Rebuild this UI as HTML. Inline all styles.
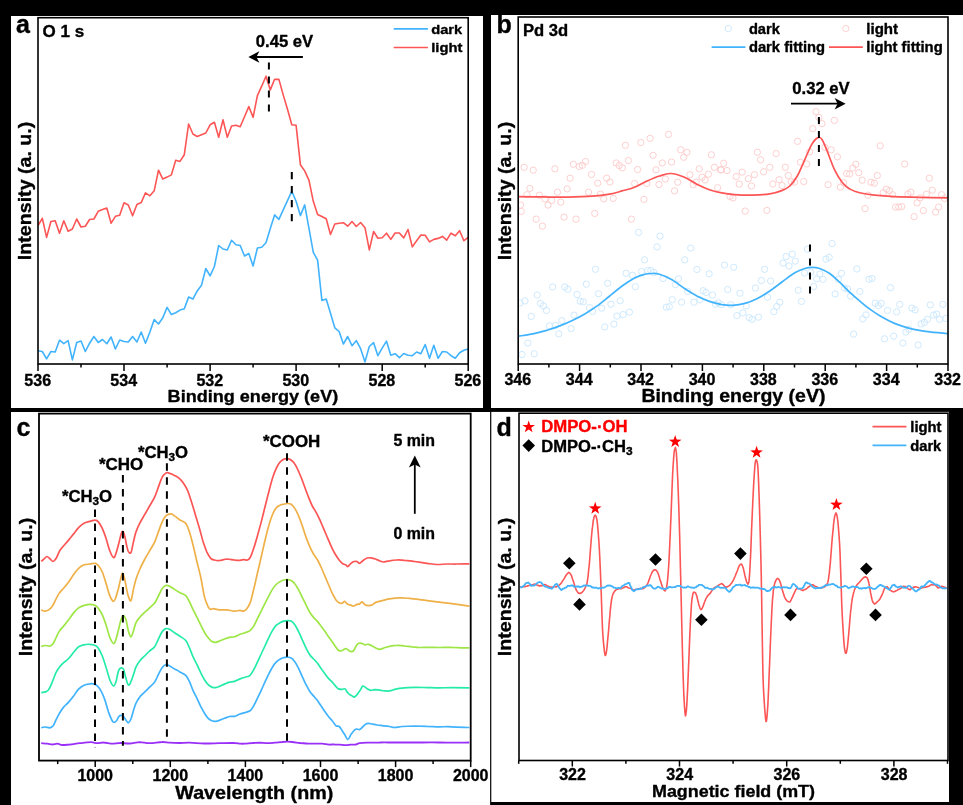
<!DOCTYPE html>
<html><head><meta charset="utf-8"><title>Figure</title>
<style>html,body{margin:0;padding:0;background:#000;overflow:hidden}svg{display:block;will-change:transform}text{font-family:"Liberation Sans",sans-serif;font-weight:bold}</style>
</head><body>
<svg width="963" height="805" viewBox="0 0 963 805">
<defs>
<clipPath id="ca"><rect x="38.0" y="17.7" width="430.2" height="346.3"/></clipPath>
<clipPath id="cb"><rect x="518.2" y="17.0" width="429.79999999999995" height="347.0"/></clipPath>
<clipPath id="cc"><rect x="39.0" y="413.6" width="431.7" height="347.0"/></clipPath>
<clipPath id="cd"><rect x="519.0" y="413.2" width="429.0" height="347.3"/></clipPath>
</defs>
<rect x="0" y="0" width="963" height="805" fill="#000"/>
<rect x="11" y="16" width="472" height="392" fill="#fff"/>
<rect x="491" y="15" width="472" height="393" fill="#fff"/>
<rect x="11" y="412" width="479.1" height="393" fill="#fff"/>
<rect x="491.3" y="411.9" width="457.7" height="390.1" fill="#fff"/>
<g clip-path="url(#ca)">
<polyline fill="none" stroke="#41b3fd" stroke-width="1.6" stroke-linejoin="round" stroke-linecap="butt"  points="38,350.7 42.3,351.5 46.6,358.9 50.9,351.5 55.2,352 59.5,340.2 63.8,343.7 68.1,340.7 72.4,359.9 76.7,342.5 81,341 85.3,351.5 89.6,343.2 93.9,336.5 98.2,342.5 102.5,339.5 106.8,343.7 111.1,337 115.4,349 119.7,340 124,341.5 128.3,342 132.6,336.5 136.9,342 141.2,332 145.5,343.2 149.9,332 154.2,319.6 158.5,324 162.8,317.8 167.1,307.4 171.4,314.6 175.7,312.8 180,310.1 184.3,308.8 188.6,297.1 192.9,299.1 197.2,290.9 201.5,285.2 205.8,268.5 210.1,275.9 214.4,266.5 218.7,245.5 223,249 227.3,250 231.6,240.3 235.9,244.8 240.2,245.5 244.5,256 248.8,253.5 253.1,266 257.4,248 261.7,247.3 266,242.8 270.3,228.6 274.6,214.9 278.9,219.4 283.2,209.9 287.5,200.7 291.8,191.2 296.1,201.2 300.4,215.6 304.7,204.9 309,228.6 313.3,252.3 317.6,260.2 321.9,300.4 326.2,299.1 330.5,313.3 334.8,327.8 339.1,331.5 343.4,344 347.7,336.5 352,345.7 356.3,340.7 360.6,348.7 365,361.9 369.3,346.5 373.6,342.7 377.9,355.7 382.2,348.2 386.5,341.2 390.8,355.2 395.1,353.7 399.4,357.7 403.7,353.5 408,355.2 412.3,355.7 416.6,352 420.9,353.7 425.2,344.5 429.5,358.2 433.8,345.2 438.1,358.2 442.4,351.5 446.7,352 451,355.7 455.3,358.2 459.6,352.7 463.9,350.2 468.2,349"/>
<polyline fill="none" stroke="#fc5555" stroke-width="1.6" stroke-linejoin="round" stroke-linecap="butt"  points="38,225.7 42.3,218.3 46.6,237.4 50.9,221.5 55.2,220.7 59.5,233.2 63.8,220.7 68.1,231.2 72.4,229 76.7,219 81,227 85.3,226.2 89.6,219.5 93.9,219 98.2,211.3 102.5,209.5 106.8,208 111.1,223.2 115.4,216.3 119.7,215.3 124,202.8 128.3,205 132.6,215.8 136.9,204.5 141.2,202.6 145.5,192.8 149.9,195.8 154.2,190.8 158.5,170.2 162.8,179.1 167.1,177.1 171.4,174.9 175.7,160.2 180,161.4 184.3,154.7 188.6,124 192.9,134 197.2,136.5 201.5,134.8 205.8,133 210.1,124.8 214.4,122.3 218.7,137.3 223,119.8 227.3,137.3 231.6,126 235.9,125.3 240.2,126.8 244.5,116.8 248.8,106.6 253.1,117.3 257.4,95.6 261.7,86.2 266,76.2 270.3,89.9 274.6,79.2 278.9,79.4 283.2,94.9 287.5,109.3 291.8,124.8 296.1,125.3 300.4,164.7 304.7,170.9 309,180.4 313.3,201.3 317.6,214.5 321.9,216.5 326.2,218.8 330.5,234.5 334.8,224 339.1,223.2 343.4,222.7 347.7,226.2 352,221.5 356.3,226.5 360.6,222.5 365,227.7 369.3,249.9 373.6,231.5 377.9,238.2 382.2,237.7 386.5,233.2 390.8,239.4 395.1,233 399.4,233 403.7,237.9 408,229.5 412.3,246.9 416.6,240.7 420.9,235 425.2,235.2 429.5,241.9 433.8,239.4 438.1,238.4 442.4,236.4 446.7,240.2 451,233.2 455.3,235.7 459.6,230.7 463.9,240.7 468.2,237.4"/>
</g>
<rect x="38" y="17.7" width="430.2" height="346.3" fill="none" stroke="#000" stroke-width="1.6"/>
<line x1="38" y1="364" x2="38" y2="371" stroke="#000" stroke-width="1.5" />
<line x1="124" y1="364" x2="124" y2="371" stroke="#000" stroke-width="1.5" />
<line x1="210.1" y1="364" x2="210.1" y2="371" stroke="#000" stroke-width="1.5" />
<line x1="296.1" y1="364" x2="296.1" y2="371" stroke="#000" stroke-width="1.5" />
<line x1="382.2" y1="364" x2="382.2" y2="371" stroke="#000" stroke-width="1.5" />
<line x1="468.2" y1="364" x2="468.2" y2="371" stroke="#000" stroke-width="1.5" />
<line x1="81" y1="364" x2="81" y2="367.5" stroke="#000" stroke-width="1.5" />
<line x1="167.1" y1="364" x2="167.1" y2="367.5" stroke="#000" stroke-width="1.5" />
<line x1="253.1" y1="364" x2="253.1" y2="367.5" stroke="#000" stroke-width="1.5" />
<line x1="339.1" y1="364" x2="339.1" y2="367.5" stroke="#000" stroke-width="1.5" />
<line x1="425.2" y1="364" x2="425.2" y2="367.5" stroke="#000" stroke-width="1.5" />
<text x="37.7" y="386.3" font-size="16" text-anchor="middle" fill="#000" stroke="#000" font-family="Liberation Sans, sans-serif" font-weight="bold" stroke-width="0.35" stroke-linejoin="round" >536</text>
<text x="123.7" y="386.3" font-size="16" text-anchor="middle" fill="#000" stroke="#000" font-family="Liberation Sans, sans-serif" font-weight="bold" stroke-width="0.35" stroke-linejoin="round" >534</text>
<text x="209.8" y="386.3" font-size="16" text-anchor="middle" fill="#000" stroke="#000" font-family="Liberation Sans, sans-serif" font-weight="bold" stroke-width="0.35" stroke-linejoin="round" >532</text>
<text x="295.8" y="386.3" font-size="16" text-anchor="middle" fill="#000" stroke="#000" font-family="Liberation Sans, sans-serif" font-weight="bold" stroke-width="0.35" stroke-linejoin="round" >530</text>
<text x="381.9" y="386.3" font-size="16" text-anchor="middle" fill="#000" stroke="#000" font-family="Liberation Sans, sans-serif" font-weight="bold" stroke-width="0.35" stroke-linejoin="round" >528</text>
<text x="467.9" y="386.3" font-size="16" text-anchor="middle" fill="#000" stroke="#000" font-family="Liberation Sans, sans-serif" font-weight="bold" stroke-width="0.35" stroke-linejoin="round" >526</text>
<text x="167.6" y="402.4" font-size="17.2" text-anchor="start" fill="#000" stroke="#000" font-family="Liberation Sans, sans-serif" font-weight="bold" stroke-width="0.35" stroke-linejoin="round" textLength="170.6" lengthAdjust="spacingAndGlyphs" >Binding energy (eV)</text>
<text transform="translate(30.7,190.9) rotate(-90)" font-size="18.6" text-anchor="middle" fill="#000" stroke="#000" font-family="Liberation Sans, sans-serif" font-weight="bold" stroke-width="0.35" stroke-linejoin="round" textLength="138.5" lengthAdjust="spacingAndGlyphs">Intensity (a. u.)</text>
<text x="16" y="32.7" font-size="25" text-anchor="start" fill="#000" stroke="#000" font-family="Liberation Sans, sans-serif" font-weight="bold" stroke-width="0.35" stroke-linejoin="round" >a</text>
<text x="42.6" y="36.9" font-size="16.4" text-anchor="start" fill="#000" stroke="#000" font-family="Liberation Sans, sans-serif" font-weight="bold" stroke-width="0.35" stroke-linejoin="round" textLength="41.6" lengthAdjust="spacingAndGlyphs" >O 1 s</text>
<line x1="393.7" y1="28.9" x2="427.9" y2="28.9" stroke="#41b3fd" stroke-width="1.7" />
<text x="431.2" y="33.7" font-size="13.6" text-anchor="start" fill="#000" stroke="#000" font-family="Liberation Sans, sans-serif" font-weight="bold" stroke-width="0.35" stroke-linejoin="round" textLength="31" lengthAdjust="spacingAndGlyphs" >dark</text>
<line x1="393.7" y1="47.5" x2="427.9" y2="47.5" stroke="#fc5555" stroke-width="1.7" />
<text x="431.2" y="52.1" font-size="13.6" text-anchor="start" fill="#000" stroke="#000" font-family="Liberation Sans, sans-serif" font-weight="bold" stroke-width="0.35" stroke-linejoin="round" textLength="31.2" lengthAdjust="spacingAndGlyphs" >light</text>
<text x="255.8" y="46.6" font-size="16" text-anchor="start" fill="#000" stroke="#000" font-family="Liberation Sans, sans-serif" font-weight="bold" stroke-width="0.35" stroke-linejoin="round" textLength="57.4" lengthAdjust="spacingAndGlyphs" >0.45 eV</text>
<line x1="302.9" y1="57" x2="255.9" y2="57" stroke="#000" stroke-width="1.8" />
<path fill="#000" d="M248.4,57 L259.4,51.2 L256.4,57 L259.4,62.8 Z"/>
<line x1="268.9" y1="62.4" x2="268.9" y2="111.8" stroke="#000" stroke-width="2" stroke-dasharray="7.2 6.8"/>
<line x1="291.8" y1="172" x2="291.8" y2="222.5" stroke="#000" stroke-width="2" stroke-dasharray="7.2 6.8"/>
<g clip-path="url(#cb)">
<circle cx="520" cy="302.9" r="3.15" fill="none" stroke="#c8e6fd" stroke-width="0.9"/>
<circle cx="525" cy="300.9" r="3.15" fill="none" stroke="#c8e6fd" stroke-width="0.9"/>
<circle cx="522" cy="354.5" r="3.15" fill="none" stroke="#c8e6fd" stroke-width="0.9"/>
<circle cx="527.9" cy="343.1" r="3.15" fill="none" stroke="#c8e6fd" stroke-width="0.9"/>
<circle cx="531.2" cy="316.4" r="3.15" fill="none" stroke="#c8e6fd" stroke-width="0.9"/>
<circle cx="534.2" cy="353.8" r="3.15" fill="none" stroke="#c8e6fd" stroke-width="0.9"/>
<circle cx="537.2" cy="295" r="3.15" fill="none" stroke="#c8e6fd" stroke-width="0.9"/>
<circle cx="540.4" cy="303.4" r="3.15" fill="none" stroke="#c8e6fd" stroke-width="0.9"/>
<circle cx="543.4" cy="305.9" r="3.15" fill="none" stroke="#c8e6fd" stroke-width="0.9"/>
<circle cx="546.4" cy="310.4" r="3.15" fill="none" stroke="#c8e6fd" stroke-width="0.9"/>
<circle cx="549.4" cy="325.9" r="3.15" fill="none" stroke="#c8e6fd" stroke-width="0.9"/>
<circle cx="552.6" cy="287" r="3.15" fill="none" stroke="#c8e6fd" stroke-width="0.9"/>
<circle cx="555.6" cy="325.4" r="3.15" fill="none" stroke="#c8e6fd" stroke-width="0.9"/>
<circle cx="558.8" cy="333.8" r="3.15" fill="none" stroke="#c8e6fd" stroke-width="0.9"/>
<circle cx="561.8" cy="320.6" r="3.15" fill="none" stroke="#c8e6fd" stroke-width="0.9"/>
<circle cx="564.8" cy="287" r="3.15" fill="none" stroke="#c8e6fd" stroke-width="0.9"/>
<circle cx="567.8" cy="289.2" r="3.15" fill="none" stroke="#c8e6fd" stroke-width="0.9"/>
<circle cx="571.1" cy="328.6" r="3.15" fill="none" stroke="#c8e6fd" stroke-width="0.9"/>
<circle cx="574" cy="315.1" r="3.15" fill="none" stroke="#c8e6fd" stroke-width="0.9"/>
<circle cx="577" cy="294.5" r="3.15" fill="none" stroke="#c8e6fd" stroke-width="0.9"/>
<circle cx="580.3" cy="301.2" r="3.15" fill="none" stroke="#c8e6fd" stroke-width="0.9"/>
<circle cx="583.3" cy="301.7" r="3.15" fill="none" stroke="#c8e6fd" stroke-width="0.9"/>
<circle cx="586.3" cy="284.2" r="3.15" fill="none" stroke="#c8e6fd" stroke-width="0.9"/>
<circle cx="589.5" cy="307.7" r="3.15" fill="none" stroke="#c8e6fd" stroke-width="0.9"/>
<circle cx="592.5" cy="311.4" r="3.15" fill="none" stroke="#c8e6fd" stroke-width="0.9"/>
<circle cx="595.5" cy="269.3" r="3.15" fill="none" stroke="#c8e6fd" stroke-width="0.9"/>
<circle cx="598.5" cy="293.7" r="3.15" fill="none" stroke="#c8e6fd" stroke-width="0.9"/>
<circle cx="601.7" cy="308.2" r="3.15" fill="none" stroke="#c8e6fd" stroke-width="0.9"/>
<circle cx="604.7" cy="326.9" r="3.15" fill="none" stroke="#c8e6fd" stroke-width="0.9"/>
<circle cx="607.7" cy="283.2" r="3.15" fill="none" stroke="#c8e6fd" stroke-width="0.9"/>
<circle cx="610.9" cy="304.2" r="3.15" fill="none" stroke="#c8e6fd" stroke-width="0.9"/>
<circle cx="613.9" cy="324.1" r="3.15" fill="none" stroke="#c8e6fd" stroke-width="0.9"/>
<circle cx="616.9" cy="316.1" r="3.15" fill="none" stroke="#c8e6fd" stroke-width="0.9"/>
<circle cx="620.2" cy="300.7" r="3.15" fill="none" stroke="#c8e6fd" stroke-width="0.9"/>
<circle cx="623.1" cy="314.6" r="3.15" fill="none" stroke="#c8e6fd" stroke-width="0.9"/>
<circle cx="626.1" cy="273.3" r="3.15" fill="none" stroke="#c8e6fd" stroke-width="0.9"/>
<circle cx="629.4" cy="312.1" r="3.15" fill="none" stroke="#c8e6fd" stroke-width="0.9"/>
<circle cx="632.4" cy="275.3" r="3.15" fill="none" stroke="#c8e6fd" stroke-width="0.9"/>
<circle cx="635.4" cy="286.7" r="3.15" fill="none" stroke="#c8e6fd" stroke-width="0.9"/>
<circle cx="638.6" cy="232.4" r="3.15" fill="none" stroke="#c8e6fd" stroke-width="0.9"/>
<circle cx="641.6" cy="271.5" r="3.15" fill="none" stroke="#c8e6fd" stroke-width="0.9"/>
<circle cx="644.6" cy="259.8" r="3.15" fill="none" stroke="#c8e6fd" stroke-width="0.9"/>
<circle cx="647.6" cy="270.5" r="3.15" fill="none" stroke="#c8e6fd" stroke-width="0.9"/>
<circle cx="650.8" cy="270.5" r="3.15" fill="none" stroke="#c8e6fd" stroke-width="0.9"/>
<circle cx="653.8" cy="272.5" r="3.15" fill="none" stroke="#c8e6fd" stroke-width="0.9"/>
<circle cx="657" cy="246.9" r="3.15" fill="none" stroke="#c8e6fd" stroke-width="0.9"/>
<circle cx="660" cy="236.1" r="3.15" fill="none" stroke="#c8e6fd" stroke-width="0.9"/>
<circle cx="663" cy="278.5" r="3.15" fill="none" stroke="#c8e6fd" stroke-width="0.9"/>
<circle cx="666.3" cy="307.2" r="3.15" fill="none" stroke="#c8e6fd" stroke-width="0.9"/>
<circle cx="669.3" cy="306.7" r="3.15" fill="none" stroke="#c8e6fd" stroke-width="0.9"/>
<circle cx="672.2" cy="299.7" r="3.15" fill="none" stroke="#c8e6fd" stroke-width="0.9"/>
<circle cx="675.5" cy="284.7" r="3.15" fill="none" stroke="#c8e6fd" stroke-width="0.9"/>
<circle cx="678.5" cy="278.8" r="3.15" fill="none" stroke="#c8e6fd" stroke-width="0.9"/>
<circle cx="681.5" cy="302.2" r="3.15" fill="none" stroke="#c8e6fd" stroke-width="0.9"/>
<circle cx="684.7" cy="259.8" r="3.15" fill="none" stroke="#c8e6fd" stroke-width="0.9"/>
<circle cx="687.7" cy="291.5" r="3.15" fill="none" stroke="#c8e6fd" stroke-width="0.9"/>
<circle cx="690.7" cy="248.1" r="3.15" fill="none" stroke="#c8e6fd" stroke-width="0.9"/>
<circle cx="693.9" cy="302.2" r="3.15" fill="none" stroke="#c8e6fd" stroke-width="0.9"/>
<circle cx="696.9" cy="269.5" r="3.15" fill="none" stroke="#c8e6fd" stroke-width="0.9"/>
<circle cx="699.9" cy="299.7" r="3.15" fill="none" stroke="#c8e6fd" stroke-width="0.9"/>
<circle cx="703.1" cy="290.7" r="3.15" fill="none" stroke="#c8e6fd" stroke-width="0.9"/>
<circle cx="706.1" cy="292.5" r="3.15" fill="none" stroke="#c8e6fd" stroke-width="0.9"/>
<circle cx="709.1" cy="273.8" r="3.15" fill="none" stroke="#c8e6fd" stroke-width="0.9"/>
<circle cx="712.4" cy="295" r="3.15" fill="none" stroke="#c8e6fd" stroke-width="0.9"/>
<circle cx="715.4" cy="304.2" r="3.15" fill="none" stroke="#c8e6fd" stroke-width="0.9"/>
<circle cx="718.3" cy="302.7" r="3.15" fill="none" stroke="#c8e6fd" stroke-width="0.9"/>
<circle cx="721.5" cy="304.7" r="3.15" fill="none" stroke="#c8e6fd" stroke-width="0.9"/>
<circle cx="724.5" cy="265" r="3.15" fill="none" stroke="#c8e6fd" stroke-width="0.9"/>
<circle cx="727.7" cy="289.5" r="3.15" fill="none" stroke="#c8e6fd" stroke-width="0.9"/>
<circle cx="730.7" cy="304.7" r="3.15" fill="none" stroke="#c8e6fd" stroke-width="0.9"/>
<circle cx="733.7" cy="267.3" r="3.15" fill="none" stroke="#c8e6fd" stroke-width="0.9"/>
<circle cx="736.9" cy="315.6" r="3.15" fill="none" stroke="#c8e6fd" stroke-width="0.9"/>
<circle cx="739.9" cy="293.2" r="3.15" fill="none" stroke="#c8e6fd" stroke-width="0.9"/>
<circle cx="742.9" cy="312.9" r="3.15" fill="none" stroke="#c8e6fd" stroke-width="0.9"/>
<circle cx="746.2" cy="305.9" r="3.15" fill="none" stroke="#c8e6fd" stroke-width="0.9"/>
<circle cx="749.2" cy="317.6" r="3.15" fill="none" stroke="#c8e6fd" stroke-width="0.9"/>
<circle cx="752.1" cy="319.4" r="3.15" fill="none" stroke="#c8e6fd" stroke-width="0.9"/>
<circle cx="755.4" cy="288" r="3.15" fill="none" stroke="#c8e6fd" stroke-width="0.9"/>
<circle cx="758.4" cy="317.1" r="3.15" fill="none" stroke="#c8e6fd" stroke-width="0.9"/>
<circle cx="761.4" cy="280.5" r="3.15" fill="none" stroke="#c8e6fd" stroke-width="0.9"/>
<circle cx="764.6" cy="269.3" r="3.15" fill="none" stroke="#c8e6fd" stroke-width="0.9"/>
<circle cx="767.6" cy="297.2" r="3.15" fill="none" stroke="#c8e6fd" stroke-width="0.9"/>
<circle cx="770.6" cy="281" r="3.15" fill="none" stroke="#c8e6fd" stroke-width="0.9"/>
<circle cx="773.8" cy="311.7" r="3.15" fill="none" stroke="#c8e6fd" stroke-width="0.9"/>
<circle cx="776.8" cy="306.4" r="3.15" fill="none" stroke="#c8e6fd" stroke-width="0.9"/>
<circle cx="779.8" cy="302.2" r="3.15" fill="none" stroke="#c8e6fd" stroke-width="0.9"/>
<circle cx="783.1" cy="263.1" r="3.15" fill="none" stroke="#c8e6fd" stroke-width="0.9"/>
<circle cx="786" cy="256.6" r="3.15" fill="none" stroke="#c8e6fd" stroke-width="0.9"/>
<circle cx="789" cy="266" r="3.15" fill="none" stroke="#c8e6fd" stroke-width="0.9"/>
<circle cx="792.3" cy="254.1" r="3.15" fill="none" stroke="#c8e6fd" stroke-width="0.9"/>
<circle cx="795.3" cy="261.1" r="3.15" fill="none" stroke="#c8e6fd" stroke-width="0.9"/>
<circle cx="798.3" cy="290.2" r="3.15" fill="none" stroke="#c8e6fd" stroke-width="0.9"/>
<circle cx="801.5" cy="301.4" r="3.15" fill="none" stroke="#c8e6fd" stroke-width="0.9"/>
<circle cx="804.5" cy="273" r="3.15" fill="none" stroke="#c8e6fd" stroke-width="0.9"/>
<circle cx="807.5" cy="249.1" r="3.15" fill="none" stroke="#c8e6fd" stroke-width="0.9"/>
<circle cx="810.7" cy="272.3" r="3.15" fill="none" stroke="#c8e6fd" stroke-width="0.9"/>
<circle cx="813.7" cy="286.5" r="3.15" fill="none" stroke="#c8e6fd" stroke-width="0.9"/>
<circle cx="816.7" cy="278.8" r="3.15" fill="none" stroke="#c8e6fd" stroke-width="0.9"/>
<circle cx="819.9" cy="274" r="3.15" fill="none" stroke="#c8e6fd" stroke-width="0.9"/>
<circle cx="822.9" cy="279.3" r="3.15" fill="none" stroke="#c8e6fd" stroke-width="0.9"/>
<circle cx="825.9" cy="259.1" r="3.15" fill="none" stroke="#c8e6fd" stroke-width="0.9"/>
<circle cx="829.2" cy="257.3" r="3.15" fill="none" stroke="#c8e6fd" stroke-width="0.9"/>
<circle cx="832.1" cy="243.6" r="3.15" fill="none" stroke="#c8e6fd" stroke-width="0.9"/>
<circle cx="835.1" cy="294" r="3.15" fill="none" stroke="#c8e6fd" stroke-width="0.9"/>
<circle cx="838.4" cy="279.3" r="3.15" fill="none" stroke="#c8e6fd" stroke-width="0.9"/>
<circle cx="841.4" cy="273.3" r="3.15" fill="none" stroke="#c8e6fd" stroke-width="0.9"/>
<circle cx="844.4" cy="288" r="3.15" fill="none" stroke="#c8e6fd" stroke-width="0.9"/>
<circle cx="847.6" cy="289" r="3.15" fill="none" stroke="#c8e6fd" stroke-width="0.9"/>
<circle cx="850.6" cy="296.2" r="3.15" fill="none" stroke="#c8e6fd" stroke-width="0.9"/>
<circle cx="853.6" cy="334.1" r="3.15" fill="none" stroke="#c8e6fd" stroke-width="0.9"/>
<circle cx="856.8" cy="269" r="3.15" fill="none" stroke="#c8e6fd" stroke-width="0.9"/>
<circle cx="859.8" cy="291.5" r="3.15" fill="none" stroke="#c8e6fd" stroke-width="0.9"/>
<circle cx="862.8" cy="318.9" r="3.15" fill="none" stroke="#c8e6fd" stroke-width="0.9"/>
<circle cx="866" cy="314.9" r="3.15" fill="none" stroke="#c8e6fd" stroke-width="0.9"/>
<circle cx="869" cy="279.3" r="3.15" fill="none" stroke="#c8e6fd" stroke-width="0.9"/>
<circle cx="872" cy="278.5" r="3.15" fill="none" stroke="#c8e6fd" stroke-width="0.9"/>
<circle cx="875.3" cy="303.2" r="3.15" fill="none" stroke="#c8e6fd" stroke-width="0.9"/>
<circle cx="878.3" cy="305.7" r="3.15" fill="none" stroke="#c8e6fd" stroke-width="0.9"/>
<circle cx="881.2" cy="303.4" r="3.15" fill="none" stroke="#c8e6fd" stroke-width="0.9"/>
<circle cx="884.5" cy="338.8" r="3.15" fill="none" stroke="#c8e6fd" stroke-width="0.9"/>
<circle cx="887.5" cy="310.4" r="3.15" fill="none" stroke="#c8e6fd" stroke-width="0.9"/>
<circle cx="890.5" cy="287.7" r="3.15" fill="none" stroke="#c8e6fd" stroke-width="0.9"/>
<circle cx="893.7" cy="336.1" r="3.15" fill="none" stroke="#c8e6fd" stroke-width="0.9"/>
<circle cx="896.7" cy="311.9" r="3.15" fill="none" stroke="#c8e6fd" stroke-width="0.9"/>
<circle cx="899.7" cy="304.4" r="3.15" fill="none" stroke="#c8e6fd" stroke-width="0.9"/>
<circle cx="902.9" cy="343.1" r="3.15" fill="none" stroke="#c8e6fd" stroke-width="0.9"/>
<circle cx="905.9" cy="332.1" r="3.15" fill="none" stroke="#c8e6fd" stroke-width="0.9"/>
<circle cx="908.9" cy="329.3" r="3.15" fill="none" stroke="#c8e6fd" stroke-width="0.9"/>
<circle cx="911.9" cy="308.2" r="3.15" fill="none" stroke="#c8e6fd" stroke-width="0.9"/>
<circle cx="915.1" cy="309.9" r="3.15" fill="none" stroke="#c8e6fd" stroke-width="0.9"/>
<circle cx="918.1" cy="345" r="3.15" fill="none" stroke="#c8e6fd" stroke-width="0.9"/>
<circle cx="921.1" cy="323.9" r="3.15" fill="none" stroke="#c8e6fd" stroke-width="0.9"/>
<circle cx="924.4" cy="322.4" r="3.15" fill="none" stroke="#c8e6fd" stroke-width="0.9"/>
<circle cx="927.4" cy="319.4" r="3.15" fill="none" stroke="#c8e6fd" stroke-width="0.9"/>
<circle cx="930.3" cy="304.9" r="3.15" fill="none" stroke="#c8e6fd" stroke-width="0.9"/>
<circle cx="933.6" cy="315.1" r="3.15" fill="none" stroke="#c8e6fd" stroke-width="0.9"/>
<circle cx="936.6" cy="314.1" r="3.15" fill="none" stroke="#c8e6fd" stroke-width="0.9"/>
<circle cx="939.6" cy="319.4" r="3.15" fill="none" stroke="#c8e6fd" stroke-width="0.9"/>
<circle cx="942.8" cy="304.4" r="3.15" fill="none" stroke="#c8e6fd" stroke-width="0.9"/>
<circle cx="945.8" cy="318.4" r="3.15" fill="none" stroke="#c8e6fd" stroke-width="0.9"/>
<circle cx="524.2" cy="167.3" r="3.15" fill="none" stroke="#fdcaca" stroke-width="0.9"/>
<circle cx="533.2" cy="170.2" r="3.15" fill="none" stroke="#fdcaca" stroke-width="0.9"/>
<circle cx="529.9" cy="188.4" r="3.15" fill="none" stroke="#fdcaca" stroke-width="0.9"/>
<circle cx="526.9" cy="194.7" r="3.15" fill="none" stroke="#fdcaca" stroke-width="0.9"/>
<circle cx="520.5" cy="205.1" r="3.15" fill="none" stroke="#fdcaca" stroke-width="0.9"/>
<circle cx="521.2" cy="211.4" r="3.15" fill="none" stroke="#fdcaca" stroke-width="0.9"/>
<circle cx="539.4" cy="195.2" r="3.15" fill="none" stroke="#fdcaca" stroke-width="0.9"/>
<circle cx="544.9" cy="198.9" r="3.15" fill="none" stroke="#fdcaca" stroke-width="0.9"/>
<circle cx="551.6" cy="200.4" r="3.15" fill="none" stroke="#fdcaca" stroke-width="0.9"/>
<circle cx="548.1" cy="205.1" r="3.15" fill="none" stroke="#fdcaca" stroke-width="0.9"/>
<circle cx="536.2" cy="219.1" r="3.15" fill="none" stroke="#fdcaca" stroke-width="0.9"/>
<circle cx="542.4" cy="226.1" r="3.15" fill="none" stroke="#fdcaca" stroke-width="0.9"/>
<circle cx="554.9" cy="168.8" r="3.15" fill="none" stroke="#fdcaca" stroke-width="0.9"/>
<circle cx="557.4" cy="192.2" r="3.15" fill="none" stroke="#fdcaca" stroke-width="0.9"/>
<circle cx="560.8" cy="202.1" r="3.15" fill="none" stroke="#fdcaca" stroke-width="0.9"/>
<circle cx="564.1" cy="217.1" r="3.15" fill="none" stroke="#fdcaca" stroke-width="0.9"/>
<circle cx="567.1" cy="188.9" r="3.15" fill="none" stroke="#fdcaca" stroke-width="0.9"/>
<circle cx="570.1" cy="178.2" r="3.15" fill="none" stroke="#fdcaca" stroke-width="0.9"/>
<circle cx="573.3" cy="164.3" r="3.15" fill="none" stroke="#fdcaca" stroke-width="0.9"/>
<circle cx="576" cy="219.1" r="3.15" fill="none" stroke="#fdcaca" stroke-width="0.9"/>
<circle cx="579.3" cy="166.5" r="3.15" fill="none" stroke="#fdcaca" stroke-width="0.9"/>
<circle cx="582.3" cy="165.3" r="3.15" fill="none" stroke="#fdcaca" stroke-width="0.9"/>
<circle cx="585.5" cy="161.5" r="3.15" fill="none" stroke="#fdcaca" stroke-width="0.9"/>
<circle cx="588.5" cy="192.2" r="3.15" fill="none" stroke="#fdcaca" stroke-width="0.9"/>
<circle cx="591.5" cy="174.5" r="3.15" fill="none" stroke="#fdcaca" stroke-width="0.9"/>
<circle cx="594.7" cy="213.4" r="3.15" fill="none" stroke="#fdcaca" stroke-width="0.9"/>
<circle cx="597.7" cy="183.2" r="3.15" fill="none" stroke="#fdcaca" stroke-width="0.9"/>
<circle cx="600.5" cy="194.2" r="3.15" fill="none" stroke="#fdcaca" stroke-width="0.9"/>
<circle cx="603.7" cy="198.9" r="3.15" fill="none" stroke="#fdcaca" stroke-width="0.9"/>
<circle cx="606.7" cy="178.2" r="3.15" fill="none" stroke="#fdcaca" stroke-width="0.9"/>
<circle cx="609.9" cy="182" r="3.15" fill="none" stroke="#fdcaca" stroke-width="0.9"/>
<circle cx="613.2" cy="198.4" r="3.15" fill="none" stroke="#fdcaca" stroke-width="0.9"/>
<circle cx="616.2" cy="163" r="3.15" fill="none" stroke="#fdcaca" stroke-width="0.9"/>
<circle cx="619.2" cy="165.5" r="3.15" fill="none" stroke="#fdcaca" stroke-width="0.9"/>
<circle cx="622.4" cy="167.8" r="3.15" fill="none" stroke="#fdcaca" stroke-width="0.9"/>
<circle cx="625.4" cy="145.3" r="3.15" fill="none" stroke="#fdcaca" stroke-width="0.9"/>
<circle cx="628.4" cy="160.5" r="3.15" fill="none" stroke="#fdcaca" stroke-width="0.9"/>
<circle cx="631.4" cy="219.1" r="3.15" fill="none" stroke="#fdcaca" stroke-width="0.9"/>
<circle cx="634.6" cy="183.5" r="3.15" fill="none" stroke="#fdcaca" stroke-width="0.9"/>
<circle cx="637.6" cy="169.5" r="3.15" fill="none" stroke="#fdcaca" stroke-width="0.9"/>
<circle cx="640.8" cy="142.6" r="3.15" fill="none" stroke="#fdcaca" stroke-width="0.9"/>
<circle cx="643.8" cy="199.4" r="3.15" fill="none" stroke="#fdcaca" stroke-width="0.9"/>
<circle cx="646.8" cy="183.5" r="3.15" fill="none" stroke="#fdcaca" stroke-width="0.9"/>
<circle cx="650.1" cy="138.3" r="3.15" fill="none" stroke="#fdcaca" stroke-width="0.9"/>
<circle cx="653.1" cy="155.3" r="3.15" fill="none" stroke="#fdcaca" stroke-width="0.9"/>
<circle cx="656" cy="169.8" r="3.15" fill="none" stroke="#fdcaca" stroke-width="0.9"/>
<circle cx="659" cy="184.5" r="3.15" fill="none" stroke="#fdcaca" stroke-width="0.9"/>
<circle cx="662.3" cy="163" r="3.15" fill="none" stroke="#fdcaca" stroke-width="0.9"/>
<circle cx="665.3" cy="179" r="3.15" fill="none" stroke="#fdcaca" stroke-width="0.9"/>
<circle cx="668.5" cy="134.4" r="3.15" fill="none" stroke="#fdcaca" stroke-width="0.9"/>
<circle cx="671.5" cy="162" r="3.15" fill="none" stroke="#fdcaca" stroke-width="0.9"/>
<circle cx="674.5" cy="190.9" r="3.15" fill="none" stroke="#fdcaca" stroke-width="0.9"/>
<circle cx="677.7" cy="182.2" r="3.15" fill="none" stroke="#fdcaca" stroke-width="0.9"/>
<circle cx="680.7" cy="149.8" r="3.15" fill="none" stroke="#fdcaca" stroke-width="0.9"/>
<circle cx="683.7" cy="157.3" r="3.15" fill="none" stroke="#fdcaca" stroke-width="0.9"/>
<circle cx="686.9" cy="152.3" r="3.15" fill="none" stroke="#fdcaca" stroke-width="0.9"/>
<circle cx="689.9" cy="174.7" r="3.15" fill="none" stroke="#fdcaca" stroke-width="0.9"/>
<circle cx="693.2" cy="184.7" r="3.15" fill="none" stroke="#fdcaca" stroke-width="0.9"/>
<circle cx="696.2" cy="182.2" r="3.15" fill="none" stroke="#fdcaca" stroke-width="0.9"/>
<circle cx="699.2" cy="168.8" r="3.15" fill="none" stroke="#fdcaca" stroke-width="0.9"/>
<circle cx="702.1" cy="177.2" r="3.15" fill="none" stroke="#fdcaca" stroke-width="0.9"/>
<circle cx="705.1" cy="180" r="3.15" fill="none" stroke="#fdcaca" stroke-width="0.9"/>
<circle cx="708.4" cy="174.2" r="3.15" fill="none" stroke="#fdcaca" stroke-width="0.9"/>
<circle cx="711.4" cy="154.8" r="3.15" fill="none" stroke="#fdcaca" stroke-width="0.9"/>
<circle cx="714.4" cy="167.3" r="3.15" fill="none" stroke="#fdcaca" stroke-width="0.9"/>
<circle cx="717.6" cy="187.7" r="3.15" fill="none" stroke="#fdcaca" stroke-width="0.9"/>
<circle cx="720.6" cy="169.8" r="3.15" fill="none" stroke="#fdcaca" stroke-width="0.9"/>
<circle cx="723.7" cy="163.3" r="3.15" fill="none" stroke="#fdcaca" stroke-width="0.9"/>
<circle cx="727" cy="170.5" r="3.15" fill="none" stroke="#fdcaca" stroke-width="0.9"/>
<circle cx="721.2" cy="169.8" r="3.15" fill="none" stroke="#fdcaca" stroke-width="0.9"/>
<circle cx="730" cy="196.4" r="3.15" fill="none" stroke="#fdcaca" stroke-width="0.9"/>
<circle cx="733" cy="197.9" r="3.15" fill="none" stroke="#fdcaca" stroke-width="0.9"/>
<circle cx="736.2" cy="176.5" r="3.15" fill="none" stroke="#fdcaca" stroke-width="0.9"/>
<circle cx="739.2" cy="184" r="3.15" fill="none" stroke="#fdcaca" stroke-width="0.9"/>
<circle cx="742.2" cy="172.2" r="3.15" fill="none" stroke="#fdcaca" stroke-width="0.9"/>
<circle cx="745.2" cy="211.1" r="3.15" fill="none" stroke="#fdcaca" stroke-width="0.9"/>
<circle cx="748.4" cy="178.7" r="3.15" fill="none" stroke="#fdcaca" stroke-width="0.9"/>
<circle cx="751.4" cy="186" r="3.15" fill="none" stroke="#fdcaca" stroke-width="0.9"/>
<circle cx="754.4" cy="174.7" r="3.15" fill="none" stroke="#fdcaca" stroke-width="0.9"/>
<circle cx="757.4" cy="152.3" r="3.15" fill="none" stroke="#fdcaca" stroke-width="0.9"/>
<circle cx="760.6" cy="159.8" r="3.15" fill="none" stroke="#fdcaca" stroke-width="0.9"/>
<circle cx="763.6" cy="171.7" r="3.15" fill="none" stroke="#fdcaca" stroke-width="0.9"/>
<circle cx="766.9" cy="210.4" r="3.15" fill="none" stroke="#fdcaca" stroke-width="0.9"/>
<circle cx="769.8" cy="167.3" r="3.15" fill="none" stroke="#fdcaca" stroke-width="0.9"/>
<circle cx="772.8" cy="184" r="3.15" fill="none" stroke="#fdcaca" stroke-width="0.9"/>
<circle cx="776.1" cy="153.6" r="3.15" fill="none" stroke="#fdcaca" stroke-width="0.9"/>
<circle cx="779.1" cy="179.7" r="3.15" fill="none" stroke="#fdcaca" stroke-width="0.9"/>
<circle cx="782.1" cy="185.5" r="3.15" fill="none" stroke="#fdcaca" stroke-width="0.9"/>
<circle cx="785.3" cy="167.3" r="3.15" fill="none" stroke="#fdcaca" stroke-width="0.9"/>
<circle cx="788.3" cy="175.5" r="3.15" fill="none" stroke="#fdcaca" stroke-width="0.9"/>
<circle cx="791.3" cy="181.7" r="3.15" fill="none" stroke="#fdcaca" stroke-width="0.9"/>
<circle cx="794.5" cy="182.2" r="3.15" fill="none" stroke="#fdcaca" stroke-width="0.9"/>
<circle cx="797.5" cy="141.3" r="3.15" fill="none" stroke="#fdcaca" stroke-width="0.9"/>
<circle cx="800.5" cy="162.3" r="3.15" fill="none" stroke="#fdcaca" stroke-width="0.9"/>
<circle cx="803.7" cy="181.5" r="3.15" fill="none" stroke="#fdcaca" stroke-width="0.9"/>
<circle cx="806.7" cy="164" r="3.15" fill="none" stroke="#fdcaca" stroke-width="0.9"/>
<circle cx="809.7" cy="151.8" r="3.15" fill="none" stroke="#fdcaca" stroke-width="0.9"/>
<circle cx="812.7" cy="128.6" r="3.15" fill="none" stroke="#fdcaca" stroke-width="0.9"/>
<circle cx="816" cy="111.7" r="3.15" fill="none" stroke="#fdcaca" stroke-width="0.9"/>
<circle cx="818.9" cy="117.4" r="3.15" fill="none" stroke="#fdcaca" stroke-width="0.9"/>
<circle cx="821.9" cy="123.6" r="3.15" fill="none" stroke="#fdcaca" stroke-width="0.9"/>
<circle cx="824.9" cy="147.3" r="3.15" fill="none" stroke="#fdcaca" stroke-width="0.9"/>
<circle cx="828.2" cy="184.7" r="3.15" fill="none" stroke="#fdcaca" stroke-width="0.9"/>
<circle cx="831.2" cy="149.8" r="3.15" fill="none" stroke="#fdcaca" stroke-width="0.9"/>
<circle cx="834.4" cy="120.4" r="3.15" fill="none" stroke="#fdcaca" stroke-width="0.9"/>
<circle cx="837.4" cy="156.8" r="3.15" fill="none" stroke="#fdcaca" stroke-width="0.9"/>
<circle cx="840.4" cy="187.2" r="3.15" fill="none" stroke="#fdcaca" stroke-width="0.9"/>
<circle cx="843.6" cy="182.7" r="3.15" fill="none" stroke="#fdcaca" stroke-width="0.9"/>
<circle cx="846.6" cy="173.5" r="3.15" fill="none" stroke="#fdcaca" stroke-width="0.9"/>
<circle cx="849.6" cy="174" r="3.15" fill="none" stroke="#fdcaca" stroke-width="0.9"/>
<circle cx="852.8" cy="168" r="3.15" fill="none" stroke="#fdcaca" stroke-width="0.9"/>
<circle cx="855.8" cy="164.3" r="3.15" fill="none" stroke="#fdcaca" stroke-width="0.9"/>
<circle cx="858.8" cy="172.7" r="3.15" fill="none" stroke="#fdcaca" stroke-width="0.9"/>
<circle cx="862.1" cy="180.2" r="3.15" fill="none" stroke="#fdcaca" stroke-width="0.9"/>
<circle cx="865" cy="208.6" r="3.15" fill="none" stroke="#fdcaca" stroke-width="0.9"/>
<circle cx="868" cy="195.2" r="3.15" fill="none" stroke="#fdcaca" stroke-width="0.9"/>
<circle cx="871" cy="182.2" r="3.15" fill="none" stroke="#fdcaca" stroke-width="0.9"/>
<circle cx="874.3" cy="183.2" r="3.15" fill="none" stroke="#fdcaca" stroke-width="0.9"/>
<circle cx="877.3" cy="175.5" r="3.15" fill="none" stroke="#fdcaca" stroke-width="0.9"/>
<circle cx="880.2" cy="145.8" r="3.15" fill="none" stroke="#fdcaca" stroke-width="0.9"/>
<circle cx="883.2" cy="192.7" r="3.15" fill="none" stroke="#fdcaca" stroke-width="0.9"/>
<circle cx="886.5" cy="189.2" r="3.15" fill="none" stroke="#fdcaca" stroke-width="0.9"/>
<circle cx="889.5" cy="190.7" r="3.15" fill="none" stroke="#fdcaca" stroke-width="0.9"/>
<circle cx="892.5" cy="194.7" r="3.15" fill="none" stroke="#fdcaca" stroke-width="0.9"/>
<circle cx="895.5" cy="207.1" r="3.15" fill="none" stroke="#fdcaca" stroke-width="0.9"/>
<circle cx="898.7" cy="207.1" r="3.15" fill="none" stroke="#fdcaca" stroke-width="0.9"/>
<circle cx="901.7" cy="206.6" r="3.15" fill="none" stroke="#fdcaca" stroke-width="0.9"/>
<circle cx="904.7" cy="164" r="3.15" fill="none" stroke="#fdcaca" stroke-width="0.9"/>
<circle cx="907.9" cy="193.9" r="3.15" fill="none" stroke="#fdcaca" stroke-width="0.9"/>
<circle cx="910.9" cy="192.2" r="3.15" fill="none" stroke="#fdcaca" stroke-width="0.9"/>
<circle cx="914.1" cy="216.6" r="3.15" fill="none" stroke="#fdcaca" stroke-width="0.9"/>
<circle cx="917.1" cy="202.9" r="3.15" fill="none" stroke="#fdcaca" stroke-width="0.9"/>
<circle cx="920.1" cy="197.9" r="3.15" fill="none" stroke="#fdcaca" stroke-width="0.9"/>
<circle cx="923.4" cy="210.6" r="3.15" fill="none" stroke="#fdcaca" stroke-width="0.9"/>
<circle cx="926.4" cy="194.2" r="3.15" fill="none" stroke="#fdcaca" stroke-width="0.9"/>
<circle cx="929.3" cy="178.2" r="3.15" fill="none" stroke="#fdcaca" stroke-width="0.9"/>
<circle cx="932.3" cy="190.2" r="3.15" fill="none" stroke="#fdcaca" stroke-width="0.9"/>
<circle cx="935.6" cy="212.1" r="3.15" fill="none" stroke="#fdcaca" stroke-width="0.9"/>
<circle cx="938.6" cy="207.1" r="3.15" fill="none" stroke="#fdcaca" stroke-width="0.9"/>
<circle cx="941.6" cy="194.7" r="3.15" fill="none" stroke="#fdcaca" stroke-width="0.9"/>
<circle cx="944.5" cy="198.4" r="3.15" fill="none" stroke="#fdcaca" stroke-width="0.9"/>
<path fill="none" stroke="#41b3fd" stroke-width="1.7" stroke-linejoin="round"  d="M518.2,336.3C521,335.8 530.1,334.4 534.9,333.3C539.8,332.3 543.2,331.3 547.4,330.1C551.5,328.8 555.7,327.5 559.8,325.9C564,324.2 568.2,322.4 572.3,320.4C576.5,318.4 580.6,316.3 584.8,313.9C588.9,311.5 593.1,308.9 597.2,305.9C601.4,302.9 605.5,299.3 609.7,296C613.8,292.6 618,289 622.1,286C626.3,283 630.9,280 634.6,278C638.3,276.1 641.7,275 644.6,274.3C647.5,273.5 649.6,273.5 652.1,273.5C654.5,273.5 656.2,273.2 659.5,274.3C662.9,275.3 667.8,277.4 672,279.8C676.1,282.1 680.3,285.8 684.5,288.5C688.6,291.2 692.8,293.8 696.9,296C701.1,298.1 705.2,300 709.4,301.4C713.5,302.9 718,304 721.8,304.7C725.7,305.3 728.6,305.6 732.5,305.4C736.3,305.2 740.8,304.6 744.9,303.4C749.1,302.3 753.2,300.5 757.4,298.4C761.5,296.4 765.7,293.7 769.8,291C774,288.2 778.2,284.8 782.3,281.7C786.5,278.7 791,275 794.8,272.8C798.5,270.6 801.8,269.4 804.7,268.5C807.6,267.6 809.7,267.3 812.2,267.3C814.7,267.3 816.8,267.5 819.7,268.5C822.6,269.6 826.3,271.2 829.7,273.5C833,275.8 836.3,279.1 839.6,282.2C842.9,285.4 846.3,289.1 849.6,292.2C852.9,295.3 856.2,298.2 859.6,300.9C862.9,303.7 865.8,306.2 869.5,308.9C873.3,311.6 877.8,314.7 882,317.1C886.1,319.5 890.3,321.6 894.5,323.4C898.6,325.1 902.8,326.4 906.9,327.6C911.1,328.8 915.2,329.6 919.4,330.3C923.5,331.1 927.1,331.5 931.8,332.1C936.5,332.6 944.9,333.3 947.5,333.6"/>
<path fill="none" stroke="#fc5555" stroke-width="1.7" stroke-linejoin="round"  d="M518.2,196.7C522.3,196.7 534.2,196.8 542.4,196.9C550.6,197 559,197.3 567.3,197.2C575.6,197 585.2,196.7 592.2,196.2C599.3,195.7 604.7,195 609.7,194.2C614.7,193.3 618,192.1 622.1,190.9C626.3,189.8 630.5,188.9 634.6,187.2C638.8,185.5 642.9,182.8 647.1,181C651.2,179.1 655.6,177.2 659.5,176C663.5,174.7 666.6,173.3 670.7,173.5C674.9,173.7 680.1,175.4 684.5,177.2C688.8,179 692.8,182.1 696.9,184.2C701.1,186.3 705.2,188.2 709.4,189.7C713.5,191.1 717.7,192.1 721.8,192.9C726,193.8 729.2,194.3 734.3,194.7C739.4,195 746.5,195.3 752.4,195.2C758.3,195 764.9,194.7 769.8,193.9C774.8,193.1 779,191.8 782.3,190.4C785.6,189.1 787.3,188.4 789.8,186C792.3,183.5 794.8,180.3 797.3,176C799.8,171.6 802.2,165.2 804.7,159.8C807.2,154.4 809.9,147.3 812.2,143.6C814.5,139.8 816.8,138 818.4,137.4C820.1,136.7 820.7,137.6 822.2,139.8C823.6,142.1 825.1,146.1 827.2,151.1C829.2,156 832.1,164.6 834.6,169.8C837.1,174.9 839.6,179 842.1,182.2C844.6,185.4 846.7,187.2 849.6,188.9C852.5,190.7 855.4,191.6 859.6,192.7C863.7,193.7 868.7,194.5 874.5,195.2C880.3,195.8 887,196.3 894.5,196.7C901.9,197 910.5,197.2 919.4,197.4C928.2,197.6 942.8,197.8 947.5,197.9"/>
</g>
<rect x="518.2" y="17" width="429.8" height="347" fill="none" stroke="#000" stroke-width="1.6"/>
<line x1="518.2" y1="364" x2="518.2" y2="371" stroke="#000" stroke-width="1.5" />
<line x1="579.6" y1="364" x2="579.6" y2="371" stroke="#000" stroke-width="1.5" />
<line x1="641" y1="364" x2="641" y2="371" stroke="#000" stroke-width="1.5" />
<line x1="702.4" y1="364" x2="702.4" y2="371" stroke="#000" stroke-width="1.5" />
<line x1="763.8" y1="364" x2="763.8" y2="371" stroke="#000" stroke-width="1.5" />
<line x1="825.2" y1="364" x2="825.2" y2="371" stroke="#000" stroke-width="1.5" />
<line x1="886.6" y1="364" x2="886.6" y2="371" stroke="#000" stroke-width="1.5" />
<line x1="948" y1="364" x2="948" y2="371" stroke="#000" stroke-width="1.5" />
<line x1="548.9" y1="364" x2="548.9" y2="367.5" stroke="#000" stroke-width="1.5" />
<line x1="610.3" y1="364" x2="610.3" y2="367.5" stroke="#000" stroke-width="1.5" />
<line x1="671.7" y1="364" x2="671.7" y2="367.5" stroke="#000" stroke-width="1.5" />
<line x1="733.1" y1="364" x2="733.1" y2="367.5" stroke="#000" stroke-width="1.5" />
<line x1="794.5" y1="364" x2="794.5" y2="367.5" stroke="#000" stroke-width="1.5" />
<line x1="855.9" y1="364" x2="855.9" y2="367.5" stroke="#000" stroke-width="1.5" />
<line x1="917.3" y1="364" x2="917.3" y2="367.5" stroke="#000" stroke-width="1.5" />
<text x="517.8" y="384.7" font-size="16" text-anchor="middle" fill="#000" stroke="#000" font-family="Liberation Sans, sans-serif" font-weight="bold" stroke-width="0.35" stroke-linejoin="round" >346</text>
<text x="579.2" y="384.7" font-size="16" text-anchor="middle" fill="#000" stroke="#000" font-family="Liberation Sans, sans-serif" font-weight="bold" stroke-width="0.35" stroke-linejoin="round" >344</text>
<text x="640.6" y="384.7" font-size="16" text-anchor="middle" fill="#000" stroke="#000" font-family="Liberation Sans, sans-serif" font-weight="bold" stroke-width="0.35" stroke-linejoin="round" >342</text>
<text x="702" y="384.7" font-size="16" text-anchor="middle" fill="#000" stroke="#000" font-family="Liberation Sans, sans-serif" font-weight="bold" stroke-width="0.35" stroke-linejoin="round" >340</text>
<text x="763.4" y="384.7" font-size="16" text-anchor="middle" fill="#000" stroke="#000" font-family="Liberation Sans, sans-serif" font-weight="bold" stroke-width="0.35" stroke-linejoin="round" >338</text>
<text x="824.8" y="384.7" font-size="16" text-anchor="middle" fill="#000" stroke="#000" font-family="Liberation Sans, sans-serif" font-weight="bold" stroke-width="0.35" stroke-linejoin="round" >336</text>
<text x="886.2" y="384.7" font-size="16" text-anchor="middle" fill="#000" stroke="#000" font-family="Liberation Sans, sans-serif" font-weight="bold" stroke-width="0.35" stroke-linejoin="round" >334</text>
<text x="947.6" y="384.7" font-size="16" text-anchor="middle" fill="#000" stroke="#000" font-family="Liberation Sans, sans-serif" font-weight="bold" stroke-width="0.35" stroke-linejoin="round" >332</text>
<text x="641.4" y="402.4" font-size="18.2" text-anchor="start" fill="#000" stroke="#000" font-family="Liberation Sans, sans-serif" font-weight="bold" stroke-width="0.35" stroke-linejoin="round" textLength="184" lengthAdjust="spacingAndGlyphs" >Binding energy (eV)</text>
<text transform="translate(510.7,190.9) rotate(-90)" font-size="18.6" text-anchor="middle" fill="#000" stroke="#000" font-family="Liberation Sans, sans-serif" font-weight="bold" stroke-width="0.35" stroke-linejoin="round" textLength="138.5" lengthAdjust="spacingAndGlyphs">Intensity (a. u.)</text>
<text x="496.6" y="32.8" font-size="25" text-anchor="start" fill="#000" stroke="#000" font-family="Liberation Sans, sans-serif" font-weight="bold" stroke-width="0.35" stroke-linejoin="round" >b</text>
<text x="522.9" y="35.5" font-size="15.8" text-anchor="start" fill="#000" stroke="#000" font-family="Liberation Sans, sans-serif" font-weight="bold" stroke-width="0.35" stroke-linejoin="round" textLength="45.2" lengthAdjust="spacingAndGlyphs" >Pd 3d</text>
<circle cx="728.3" cy="28.5" r="3.15" fill="none" stroke="#c8e6fd" stroke-width="0.9"/>
<text x="748.9" y="33.8" font-size="13.8" text-anchor="start" fill="#000" stroke="#000" font-family="Liberation Sans, sans-serif" font-weight="bold" stroke-width="0.35" stroke-linejoin="round" textLength="31" lengthAdjust="spacingAndGlyphs" >dark</text>
<circle cx="845.8" cy="28.5" r="3.15" fill="none" stroke="#fdcaca" stroke-width="0.9"/>
<text x="866.3" y="33.8" font-size="13.8" text-anchor="start" fill="#000" stroke="#000" font-family="Liberation Sans, sans-serif" font-weight="bold" stroke-width="0.35" stroke-linejoin="round" textLength="31.8" lengthAdjust="spacingAndGlyphs" >light</text>
<line x1="711.6" y1="47.1" x2="745.4" y2="47.1" stroke="#41b3fd" stroke-width="1.7" />
<text x="748.9" y="52.4" font-size="13.8" text-anchor="start" fill="#000" stroke="#000" font-family="Liberation Sans, sans-serif" font-weight="bold" stroke-width="0.35" stroke-linejoin="round" textLength="76.2" lengthAdjust="spacingAndGlyphs" >dark fitting</text>
<line x1="829" y1="47.1" x2="862.8" y2="47.1" stroke="#fc5555" stroke-width="1.7" />
<text x="866.3" y="52.4" font-size="13.8" text-anchor="start" fill="#000" stroke="#000" font-family="Liberation Sans, sans-serif" font-weight="bold" stroke-width="0.35" stroke-linejoin="round" textLength="76.4" lengthAdjust="spacingAndGlyphs" >light fitting</text>
<text x="792.3" y="94.1" font-size="16" text-anchor="start" fill="#000" stroke="#000" font-family="Liberation Sans, sans-serif" font-weight="bold" stroke-width="0.35" stroke-linejoin="round" textLength="57.4" lengthAdjust="spacingAndGlyphs" >0.32 eV</text>
<line x1="791" y1="103.7" x2="838.1" y2="103.7" stroke="#000" stroke-width="1.8" />
<path fill="#000" d="M845.6,103.7 L834.6,97.9 L837.6,103.7 L834.6,109.5 Z"/>
<line x1="818.9" y1="116.9" x2="818.9" y2="166.5" stroke="#000" stroke-width="2" stroke-dasharray="7.2 6.8"/>
<line x1="810" y1="244.4" x2="810" y2="294.2" stroke="#000" stroke-width="2" stroke-dasharray="7.2 6.8"/>
<g clip-path="url(#cc)">
<path fill="none" stroke="#9a30f7" stroke-width="1.8" stroke-linejoin="round"  d="M41.2,743.2C42.3,743.3 45.6,743.5 47.4,743.7C49.3,743.9 50.8,744.5 52.4,744.5C54.1,744.5 55.8,743.6 57.4,743.7C59.1,743.8 60.3,744.8 62.4,745C64.5,745.1 67,744.7 69.9,744.5C72.8,744.2 76.3,743.6 79.8,743.2C83.4,742.8 88.2,742.2 91.1,742.2C94,742.2 95.2,743.2 97.3,743.2C99.4,743.3 101,742.4 103.5,742.5C106,742.5 109.5,743.6 112.2,743.7C114.9,743.8 116.8,743 119.7,743C122.6,742.9 126.4,743.6 129.7,743.5C133,743.3 136.3,742.3 139.7,742.2C143,742.2 145.9,743.3 149.6,743.2C153.4,743.2 158.8,742 162.1,742C165.4,741.9 166.7,742.5 169.6,742.7C172.5,742.9 176.2,743 179.5,743C182.9,743 185.3,742.6 189.5,742.7C193.7,742.8 199.5,743.4 204.5,743.5C209.4,743.5 214.4,743.3 219.4,743.2C224.4,743.1 230.9,742.9 234.4,743C237.8,743 238.2,743.6 240,743.7C241.8,743.8 242.9,743.8 245,743.7C247.1,743.6 250,743.1 252.5,743C255,742.8 257.4,742.7 259.9,742.7C262.4,742.8 264.9,743.2 267.4,743.2C269.9,743.2 272.4,742.9 274.9,742.7C277.4,742.5 280.3,742.1 282.4,742C284.4,741.8 285.7,741.7 287.4,741.7C289,741.7 290.3,741.8 292.3,742C294.4,742.2 297.3,742.7 299.8,743C302.3,743.2 304.8,743.3 307.3,743.5C309.8,743.6 312.3,743.7 314.8,743.7C317.3,743.7 320,743.6 322.2,743.7C324.5,743.8 326.4,744.3 328.5,744.5C330.6,744.6 332.8,744.4 334.7,744.5C336.6,744.5 337.8,744.6 339.7,744.7C341.6,744.8 344,745.2 345.9,745.2C347.8,745.2 349.2,744.8 350.9,744.7C352.6,744.6 354.4,744.7 355.9,744.5C357.3,744.2 357.8,743.5 359.6,743.2C361.5,742.9 363.8,742.8 367.1,742.7C370.4,742.6 375,742.5 379.6,742.5C384.1,742.4 388.7,742.5 394.5,742.5C400.3,742.5 407,742.5 414.5,742.5C421.9,742.5 432.7,742.4 439.4,742.5C446,742.5 449.3,742.7 454.3,742.7C459.3,742.7 466.8,742.5 469.3,742.5"/>
<path fill="none" stroke="#41b3fd" stroke-width="1.7" stroke-linejoin="round"  d="M41.2,727.8C41.8,727.6 43.5,727 45,727C46.4,727 48.6,728 49.9,727.8C51.3,727.5 52.1,727.1 53.2,725.8C54.2,724.4 55.1,721.6 56.2,719.5C57.2,717.5 58.2,715.4 59.4,713.3C60.7,711.2 62.1,708.9 63.6,707.1C65.2,705.2 67,704 68.6,702.1C70.3,700.2 72,698 73.6,695.9C75.3,693.7 76.9,690.9 78.6,689.1C80.3,687.4 81.7,686.3 83.6,685.4C85.5,684.5 88.2,684.1 89.8,683.9C91.5,683.6 92.3,683.6 93.6,683.9C94.8,684.2 96,684.7 97.3,685.9C98.5,687.1 99.8,688.6 101,690.9C102.3,693.2 103.5,696.1 104.8,699.6C106,703.1 107.3,708.5 108.5,712.1C109.8,715.6 111.3,719 112.2,720.8C113.2,722.5 113.3,722.5 114,722.5C114.7,722.5 115.6,721.8 116.5,720.8C117.3,719.7 118.1,717.2 119,716.3C119.8,715.4 120.6,715.2 121.5,715.3C122.3,715.4 123.1,716.1 124,717C124.8,718 125.7,719.8 126.4,720.8C127.2,721.7 127.7,723.1 128.4,722.8C129.2,722.5 130.1,721 130.9,719C131.8,717 132.6,713.4 133.4,710.8C134.3,708.2 134.9,705.6 135.9,703.3C137,701 138.2,699 139.7,697.1C141.1,695.2 143,693.8 144.6,692.1C146.3,690.5 148,688.8 149.6,687.1C151.3,685.5 153.2,684.2 154.6,682.1C156.1,680.1 157.1,677.1 158.3,674.7C159.6,672.3 160.8,669.4 162.1,667.7C163.3,666 164.6,665 165.8,664.7C167.1,664.4 168.1,665.2 169.6,666C171,666.7 172.9,668 174.5,668.9C176.2,669.9 177.7,670.6 179.5,671.7C181.4,672.8 184.1,673.8 185.8,675.4C187.4,677.1 188.3,679.1 189.5,681.7C190.7,684.2 192,688.1 193.2,690.9C194.5,693.7 195.7,695.8 197,698.3C198.2,700.9 199.5,703.8 200.7,706.3C202,708.8 203.2,711.3 204.5,713.3C205.7,715.3 206.9,717 208.2,718.3C209.4,719.5 210.7,720.3 211.9,720.8C213.2,721.3 214.4,721.4 215.7,721.3C216.9,721.2 218,720.8 219.4,720.3C220.9,719.8 222.7,718.9 224.4,718.3C226.1,717.7 227.7,716.9 229.4,716.5C231,716.2 232.6,716.7 234.4,716.3C236.1,715.9 238.2,714.7 240,714C241.8,713.4 243.3,713.1 245,712.6C246.6,712 248.5,711.9 250,710.8C251.4,709.7 252.5,707.9 253.7,705.8C255,703.7 256.2,700.9 257.4,698.3C258.7,695.8 259.9,693.1 261.2,690.4C262.4,687.7 263.7,684.8 264.9,682.1C266.2,679.4 267.4,676.7 268.7,674.2C269.9,671.7 271.2,669.2 272.4,667.2C273.6,665.2 274.9,663.5 276.1,662.2C277.4,660.9 278.6,660 279.9,659.2C281.1,658.5 282.4,658.1 283.6,657.7C284.9,657.4 286.1,657.2 287.4,657.2C288.6,657.3 289.8,657.2 291.1,658C292.3,658.7 293.6,660 294.8,661.7C296.1,663.5 297.3,666 298.6,668.4C299.8,670.9 301.1,674 302.3,676.7C303.6,679.4 304.8,682.2 306,684.6C307.3,687.1 308.5,689.5 309.8,691.4C311,693.2 312.3,694.4 313.5,695.9C314.8,697.4 316,698.7 317.3,700.3C318.5,702 319.8,704 321,705.8C322.2,707.7 323.5,709.5 324.7,711.3C326,713.1 327.2,715 328.5,716.5C329.7,718.1 331,719.2 332.2,720.8C333.5,722.3 334.8,724.8 336,725.8C337.1,726.7 338.2,725.7 339.2,726.5C340.2,727.3 341.3,729.4 342.2,730.7C343.1,732.1 343.7,733 344.7,734.5C345.6,735.9 346.9,739.5 347.9,739.5C349,739.5 349.9,735.9 350.9,734.5C351.9,733 353,731.7 353.9,730.7C354.8,729.8 355.4,729.2 356.4,729C357.3,728.8 358.6,729.8 359.6,729.5C360.7,729.2 361.6,727.9 362.6,727C363.7,726.1 364.9,724.6 365.9,724C366.8,723.4 367.3,723.3 368.3,723.3C369.4,723.3 370.6,723.7 372.1,724C373.5,724.3 375.2,724.7 377.1,725C378.9,725.3 381.2,725.5 383.3,725.8C385.4,726 387.7,726.2 389.5,726.5C391.4,726.8 392.4,727.5 394.5,727.5C396.6,727.5 398.7,726.8 402,726.5C405.3,726.3 410.3,726.1 414.5,726C418.6,726 422.8,726.1 426.9,726.3C431.1,726.4 435.2,726.7 439.4,726.8C443.5,726.8 446.9,726.6 451.8,726.8C456.8,726.9 466.4,727.4 469.3,727.5"/>
<path fill="none" stroke="#25ebaa" stroke-width="1.7" stroke-linejoin="round"  d="M41.2,692.6C42,692.5 45,692.1 46.2,691.6C47.4,691.1 47.9,690.8 48.7,689.6C49.5,688.5 50.4,686.5 51.2,684.6C52,682.8 52.8,680.5 53.7,678.4C54.5,676.3 55.2,674 56.2,672.2C57.1,670.3 58.2,668.8 59.4,667.2C60.7,665.6 62.1,664.2 63.6,662.7C65.2,661.3 67,660.2 68.6,658.5C70.3,656.7 72,654.2 73.6,652.2C75.3,650.3 76.9,648 78.6,646.8C80.3,645.5 81.7,645.2 83.6,644.8C85.5,644.4 87.9,644.1 89.8,644.3C91.8,644.4 93.8,644.8 95.3,645.5C96.7,646.2 97.4,646.8 98.5,648.5C99.7,650.2 101,652.9 102.3,656C103.5,659.1 104.8,663.3 106,667.2C107.3,671.1 108.5,676.5 109.8,679.7C111,682.8 112.5,685.6 113.5,685.9C114.5,686.2 115.2,684.1 116,681.7C116.8,679.2 117.6,673.2 118.5,670.9C119.3,668.7 120.1,668.2 121,667.9C121.8,667.7 122.6,667.4 123.5,669.2C124.3,670.9 125.1,675.8 126,678.4C126.8,681.1 127.6,684.6 128.4,685.1C129.3,685.7 130.1,683.4 130.9,681.7C131.8,679.9 132.6,677.1 133.4,674.7C134.3,672.3 134.9,669.5 135.9,667.2C137,664.9 138.2,662.8 139.7,661C141.1,659.1 143,657.6 144.6,656C146.3,654.3 148,652.5 149.6,651C151.3,649.5 153.2,648.7 154.6,646.8C156.1,644.8 157.1,641.8 158.3,639.3C159.6,636.8 160.8,633.6 162.1,631.8C163.3,630 164.6,629 165.8,628.6C167.1,628.2 168.1,628.6 169.6,629.3C171,630 172.9,631.7 174.5,632.8C176.2,633.9 177.7,634.8 179.5,636C181.4,637.3 184.1,638.5 185.8,640.5C187.4,642.5 188.3,645.2 189.5,648C190.7,650.8 192,654.4 193.2,657.2C194.5,660 195.7,662.1 197,664.7C198.2,667.3 199.5,670.2 200.7,672.7C202,675.2 203.2,677.7 204.5,679.7C205.7,681.7 206.9,683.4 208.2,684.6C209.4,685.9 210.7,686.6 211.9,687.1C213.2,687.6 214.4,687.8 215.7,687.6C216.9,687.5 218,687 219.4,686.4C220.9,685.8 222.7,684.8 224.4,684.1C226.1,683.4 227.7,682.6 229.4,682.1C231,681.7 232.6,681.9 234.4,681.4C236.1,680.9 238.2,679.6 240,678.9C241.8,678.2 243.3,677.7 245,677.2C246.6,676.6 248.5,676.7 250,675.4C251.4,674.2 252.5,671.9 253.7,669.7C255,667.5 256.2,664.8 257.4,662.2C258.7,659.6 259.9,656.7 261.2,654C262.4,651.3 263.7,648.7 264.9,646C266.2,643.3 267.4,640.4 268.7,637.8C269.9,635.2 271.2,632.6 272.4,630.6C273.6,628.5 274.9,626.6 276.1,625.3C277.4,624 278.6,623.5 279.9,622.8C281.1,622.1 282.4,621.5 283.6,621.1C284.9,620.7 286.1,620.6 287.4,620.6C288.6,620.6 289.8,620.4 291.1,621.1C292.3,621.8 293.6,623.1 294.8,624.8C296.1,626.6 297.3,629.1 298.6,631.6C299.8,634 301.1,637 302.3,639.8C303.6,642.5 304.8,645.5 306,648C307.3,650.5 308.5,652.9 309.8,654.7C311,656.6 312.3,657.6 313.5,659C314.8,660.3 316,661.4 317.3,663C318.5,664.5 319.8,666.7 321,668.4C322.2,670.2 323.5,671.8 324.7,673.4C326,675.1 327.2,677 328.5,678.4C329.7,679.9 331,680.8 332.2,682.1C333.5,683.5 334.9,685.5 336,686.6C337,687.8 337.4,688.4 338.4,688.9C339.5,689.3 341.1,689.4 342.2,689.4C343.3,689.4 344.3,688.4 345.2,688.9C346,689.3 346.4,691.2 347.2,692.1C347.9,693.1 348.8,694 349.7,694.6C350.5,695.2 351.4,695.4 352.1,695.9C352.9,696.3 353.4,697.2 354.1,697.1C354.8,697 355.6,696.2 356.4,695.4C357.2,694.5 358.1,693.2 358.9,692.1C359.6,691.1 360.2,690.1 360.9,689.1C361.5,688.1 361.9,686.5 362.6,686.1C363.3,685.8 364.3,686.6 365.1,687.1C365.9,687.6 366.6,688.6 367.6,689.1C368.6,689.7 369.7,690.3 370.8,690.4C372,690.5 373.1,689.7 374.6,689.6C376,689.6 377.9,689.9 379.6,690.1C381.2,690.3 382.9,690.7 384.5,690.9C386.2,691 387.7,691.2 389.5,690.9C391.4,690.6 393.7,689.6 395.8,689.1C397.8,688.7 398.9,688.4 402,688.1C405.1,687.8 410.3,687.5 414.5,687.4C418.6,687.3 422.8,687.5 426.9,687.6C431.1,687.7 435.2,687.9 439.4,687.9C443.5,687.9 446.9,687.6 451.8,687.6C456.8,687.6 466.4,687.8 469.3,687.9"/>
<path fill="none" stroke="#9de645" stroke-width="1.7" stroke-linejoin="round"  d="M41.2,646.5C41.8,646.3 43.5,645.6 45,645.5C46.4,645.4 48.6,646.3 49.9,646C51.3,645.7 52.1,645 53.2,643.5C54.2,642.1 55.1,639.4 56.2,637.3C57.2,635.2 58.2,632.9 59.4,631.1C60.7,629.2 62.1,627.9 63.6,626.1C65.2,624.2 67,622 68.6,619.8C70.3,617.6 72,614.9 73.6,612.9C75.3,610.9 76.9,609.1 78.6,607.9C80.3,606.7 81.7,606.2 83.6,605.6C85.5,605.1 87.9,604.4 89.8,604.4C91.8,604.4 93.8,604.9 95.3,605.6C96.7,606.3 97.4,607.1 98.5,608.6C99.7,610.2 101,612.2 102.3,614.9C103.5,617.6 104.8,621.1 106,624.8C107.3,628.6 108.5,634.2 109.8,637.3C111,640.4 112.5,643.2 113.5,643.5C114.5,643.9 115.2,641.6 116,639.3C116.8,637 117.6,633.1 118.5,629.8C119.3,626.6 120.1,622.2 121,619.8C121.8,617.5 122.6,615.6 123.5,615.6C124.3,615.6 125.1,617.3 126,619.8C126.8,622.4 127.6,628.2 128.4,631.1C129.3,633.9 130.1,636.8 130.9,636.8C131.8,636.8 132.6,633.4 133.4,631.1C134.3,628.7 134.9,625.1 135.9,622.8C137,620.6 138.2,619.1 139.7,617.4C141.1,615.6 143,613.9 144.6,612.4C146.3,610.8 148,609.4 149.6,607.9C151.3,606.3 153.2,605.1 154.6,603.1C156.1,601.2 157.1,598.6 158.3,596.2C159.6,593.8 160.8,590.5 162.1,588.7C163.3,586.9 164.6,585.9 165.8,585.5C167.1,585 168.1,585.5 169.6,586.2C171,586.9 172.9,588.4 174.5,589.4C176.2,590.5 177.7,591.4 179.5,592.4C181.4,593.5 184.1,594.1 185.8,595.7C187.4,597.2 188.3,599.5 189.5,601.9C190.7,604.3 192,607.3 193.2,609.9C194.5,612.5 195.7,614.9 197,617.4C198.2,619.8 199.5,622.3 200.7,624.8C202,627.3 203.2,630.1 204.5,632.3C205.7,634.5 206.9,636.3 208.2,637.8C209.4,639.3 210.7,640.8 211.9,641.5C213.2,642.3 214.4,642.4 215.7,642.3C216.9,642.2 218,641.6 219.4,641C220.9,640.5 222.7,639.7 224.4,639C226.1,638.4 227.7,637.7 229.4,637.3C231,636.9 232.6,637.3 234.4,636.8C236.1,636.3 238.2,635 240,634.3C241.8,633.6 243.3,633.4 245,632.8C246.6,632.2 248.5,631.7 250,630.6C251.4,629.4 252.5,628.1 253.7,626.1C255,624.1 256.2,621.1 257.4,618.6C258.7,616.1 259.9,613.6 261.2,611.1C262.4,608.6 263.7,606.1 264.9,603.6C266.2,601.2 267.4,598.5 268.7,596.2C269.9,593.8 271.2,591.4 272.4,589.4C273.6,587.5 274.9,585.7 276.1,584.5C277.4,583.2 278.6,582.5 279.9,581.7C281.1,581 282.4,580.3 283.6,580C284.9,579.6 286.1,579.4 287.4,579.5C288.6,579.6 289.8,579.8 291.1,580.5C292.3,581.2 293.6,582.1 294.8,583.7C296.1,585.3 297.3,587.7 298.6,589.9C299.8,592.2 301.1,594.9 302.3,597.4C303.6,599.9 304.8,602.4 306,604.9C307.3,607.4 308.5,610.3 309.8,612.4C311,614.4 312.3,615.9 313.5,617.4C314.8,618.8 316,619.6 317.3,621.1C318.5,622.5 319.8,624.4 321,626.1C322.2,627.7 323.5,629.3 324.7,631.1C326,632.8 327.2,635 328.5,636.8C329.7,638.6 331,640 332.2,641.8C333.5,643.5 334.9,645.8 336,647.3C337,648.7 337.6,649.6 338.4,650.2C339.3,650.9 340.1,651.1 340.9,651C341.8,650.9 342.6,650.2 343.4,649.8C344.3,649.3 345.1,648.4 345.9,648.5C346.7,648.6 347.5,649.7 348.4,650.2C349.3,650.8 350.5,651.7 351.4,651.7C352.3,651.7 353.1,651.3 353.9,650.2C354.7,649.2 355.6,646.7 356.4,645.5C357.2,644.4 357.9,643.6 358.9,643.3C359.8,642.9 361.1,643.3 362.1,643.5C363.2,643.8 364.1,644.6 365.1,644.8C366.1,644.9 367.2,644.1 368.3,644.3C369.5,644.5 370.8,645.4 372.1,646C373.3,646.6 374.6,647.5 375.8,648C377.1,648.5 378.1,649.3 379.6,649.3C381,649.2 382.9,648.3 384.5,647.8C386.2,647.3 387.5,646.7 389.5,646.3C391.6,645.8 394.5,645.3 397,645.3C399.5,645.2 402,645.8 404.5,646C407,646.3 409.5,646.5 412,646.8C414.5,647 416.5,647.4 419.4,647.5C422.3,647.6 426.1,647.3 429.4,647.3C432.7,647.3 435.6,647.5 439.4,647.5C443.1,647.5 448.1,647.2 451.8,647.3C455.6,647.3 458.9,647.7 461.8,647.8C464.7,647.8 468,647.8 469.3,647.8"/>
<path fill="none" stroke="#efb048" stroke-width="1.7" stroke-linejoin="round"  d="M41.2,609.9C41.8,610.1 43.7,611.1 45,611.1C46.2,611.1 47.4,610.7 48.7,609.9C49.9,609 51.2,608 52.4,606.1C53.7,604.3 55,600.9 56.2,598.7C57.3,596.5 58.2,594.7 59.4,592.9C60.7,591.2 62.1,590 63.6,588.2C65.2,586.4 67,584.2 68.6,582C70.3,579.7 72,576.8 73.6,574.5C75.3,572.2 76.9,569.8 78.6,568.3C80.3,566.7 81.7,565.7 83.6,565C85.5,564.3 87.9,564.3 89.8,564C91.8,563.7 93.8,563 95.3,563.3C96.7,563.6 97.4,564.3 98.5,565.8C99.7,567.2 101,569.1 102.3,572C103.5,574.9 104.8,579.3 106,583.2C107.3,587.2 108.5,592.6 109.8,595.7C111,598.7 112.5,601.2 113.5,601.4C114.5,601.6 115.2,599.1 116,596.9C116.8,594.7 117.6,591.4 118.5,588.2C119.3,585 120.3,580 121,577.5C121.7,575 122.1,572.9 122.7,573.2C123.3,573.6 124,576.8 124.7,579.5C125.4,582.2 126.1,586.6 126.7,589.4C127.3,592.3 127.7,594.5 128.4,596.4C129.1,598.3 130.1,601.8 130.9,600.7C131.8,599.5 132.6,593 133.4,589.4C134.3,585.9 134.9,582.8 135.9,579.5C137,576.1 138.2,572.8 139.7,569.5C141.1,566.2 143,562.6 144.6,559.5C146.3,556.4 148,553.7 149.6,550.8C151.3,547.9 153.2,545.2 154.6,542.1C156.1,539 157.1,535.4 158.3,532.1C159.6,528.8 160.8,524.8 162.1,522.1C163.3,519.4 164.4,517.3 165.8,515.9C167.3,514.5 169.4,513.9 170.8,513.9C172.3,513.9 173.1,515 174.5,515.9C176,516.9 177.7,518.4 179.5,519.7C181.4,520.9 184.1,521.3 185.8,523.4C187.4,525.5 188.3,528.4 189.5,532.1C190.7,535.9 192,540.8 193.2,545.8C194.5,550.8 195.7,556.8 197,562C198.2,567.2 199.5,571.2 200.7,577C202,582.8 203.2,591.9 204.5,596.9C205.7,601.9 207.2,604.8 208.2,606.9C209.2,609 209.9,609.1 210.7,609.4C211.5,609.7 211.7,608.5 213.2,608.6C214.6,608.7 217.1,609.7 219.4,609.9C221.7,610.1 224.4,609.7 226.9,609.9C229.4,610.1 232.2,611 234.4,611.1C236.5,611.2 238.4,610.4 240,610.4C241.6,610.4 242.6,611.4 243.7,611.1C244.9,610.8 245.9,610.2 247,608.6C248.1,607.1 249.3,605.1 250.5,601.9C251.6,598.7 252.5,594.2 253.7,589.4C254.9,584.7 256.2,578.6 257.4,573.2C258.7,567.8 259.9,562.4 261.2,557C262.4,551.6 263.7,546 264.9,540.8C266.2,535.6 267.4,530.2 268.7,525.9C269.9,521.5 271.2,517.7 272.4,514.7C273.6,511.7 274.9,509.5 276.1,507.9C277.4,506.4 278.6,505.8 279.9,505.2C281.1,504.6 282.4,504.5 283.6,504.2C284.9,503.9 286.1,503.5 287.4,503.5C288.6,503.5 289.8,503.4 291.1,504.2C292.3,505 293.6,506.5 294.8,508.4C296.1,510.4 297.3,513 298.6,515.9C299.8,518.8 301.1,522.4 302.3,525.9C303.6,529.4 304.8,533.7 306,537.1C307.3,540.6 308.5,543.7 309.8,546.6C311,549.4 312.3,551.9 313.5,554C314.8,556.2 316,557.4 317.3,559.5C318.5,561.7 319.8,564.3 321,567C322.2,569.7 323.5,572.8 324.7,575.7C326,578.6 327.2,581.5 328.5,584.5C329.7,587.4 331,590.6 332.2,593.2C333.5,595.8 334.7,598.2 336,599.9C337.2,601.6 338.7,602.6 339.7,603.1C340.7,603.7 341.3,603.4 342.2,603.1C343,602.9 343.8,601.3 344.7,601.4C345.5,601.5 346.1,603.3 347.2,603.9C348.2,604.5 349.9,604.8 350.9,605.1C351.9,605.5 352.4,606.3 353.4,606.1C354.4,606 356.1,604.8 357.1,604.4C358.2,604 358.8,604.3 359.6,603.9C360.5,603.5 361.3,601.8 362.1,601.9C362.9,602 363.6,603.8 364.6,604.4C365.6,605 367.1,605.6 368.3,605.6C369.6,605.7 370.8,605.4 372.1,604.9C373.3,604.4 374.2,603.1 375.8,602.4C377.5,601.7 379.8,601.2 382.1,600.7C384.3,600.1 386.6,599.4 389.5,598.9C392.4,598.5 396.2,598 399.5,597.9C402.8,597.8 405.7,598.1 409.5,598.4C413.2,598.7 417.4,599.3 421.9,599.9C426.5,600.5 431.9,601.3 436.9,601.9C441.9,602.5 446.4,602.9 451.8,603.6C457.2,604.4 466.4,605.7 469.3,606.1"/>
<path fill="none" stroke="#fc5555" stroke-width="1.7" stroke-linejoin="round"  d="M41.2,561.3C41.7,560.9 43.3,559.6 44.2,558.8C45.2,558 46,556.5 46.9,556.5C47.9,556.5 48.9,558 49.9,558.8C51,559.6 52.1,561.6 53.2,561.5C54.2,561.4 55.1,560 56.2,558.3C57.2,556.6 58.2,553.4 59.4,551.3C60.7,549.2 62.1,547.7 63.6,545.8C65.2,544 67,542.1 68.6,540.1C70.3,538.1 72,535.9 73.6,533.9C75.3,531.8 76.9,529.4 78.6,527.6C80.3,525.9 81.7,524.4 83.6,523.4C85.5,522.4 87.9,521.9 89.8,521.4C91.8,520.9 93.8,520 95.3,520.2C96.7,520.3 97.4,520.8 98.5,522.1C99.7,523.5 101,525.7 102.3,528.4C103.5,531.1 104.8,534.6 106,538.3C107.3,542.1 108.5,547.6 109.8,550.8C111,554 112.5,557.1 113.5,557.5C114.5,558 115.2,555.5 116,553.3C116.8,551.1 117.6,547.7 118.5,544.6C119.3,541.5 120.3,536.8 121,534.6C121.7,532.4 122.1,531.2 122.7,531.4C123.3,531.6 124,533.4 124.7,535.9C125.4,538.3 126.1,543.2 126.7,545.8C127.3,548.4 127.7,550.4 128.4,551.6C129.1,552.7 130.1,554.1 130.9,552.6C131.8,551 132.6,545.5 133.4,542.1C134.3,538.7 134.9,535.2 135.9,532.1C137,529 138.2,526.3 139.7,523.4C141.1,520.5 143,517.6 144.6,514.7C146.3,511.8 148,508.9 149.6,506C151.3,503 153.2,500.3 154.6,497.2C156.1,494.1 157.1,490.6 158.3,487.3C159.6,483.9 160.8,479.7 162.1,477.3C163.3,474.9 164.8,473.8 165.8,473.1C166.9,472.3 167.3,472.6 168.3,472.8C169.4,473 170.6,473.6 172.1,474.3C173.5,475 175.6,475.9 177,476.8C178.5,477.7 179.5,478.5 180.8,479.8C182,481.1 183.3,482.7 184.5,484.8C185.8,486.8 187,489.1 188.3,492.2C189.5,495.4 190.7,499.5 192,503.5C193.2,507.4 194.5,511.8 195.7,515.9C197,520.1 198.2,524 199.5,528.4C200.7,532.7 202,538.1 203.2,542.1C204.5,546 205.7,549.4 206.9,552.1C208.2,554.8 209.4,557 210.7,558.3C211.9,559.6 213,559.7 214.4,560C215.9,560.4 217.3,560.7 219.4,560.5C221.5,560.4 224.4,559.1 226.9,559C229.4,559 232.2,559.8 234.4,560C236.5,560.2 238.4,560.4 240,560.3C241.6,560.2 242.5,559.6 243.7,559.5C245,559.5 246.4,560.4 247.5,560C248.6,559.6 249.4,559 250.5,557C251.5,555.1 252.5,551.8 253.7,548.3C254.9,544.8 256.2,540.2 257.4,535.9C258.7,531.5 259.9,526.9 261.2,522.1C262.4,517.4 263.7,512.2 264.9,507.2C266.2,502.2 267.4,497 268.7,492.2C269.9,487.5 271.2,482.5 272.4,478.5C273.6,474.6 274.9,471.3 276.1,468.6C277.4,465.9 278.6,463.9 279.9,462.3C281.1,460.8 282.5,460 283.6,459.3C284.8,458.7 285.8,458.6 286.9,458.6C287.9,458.6 288.7,458.7 289.8,459.3C291,460 292.3,460.8 293.6,462.3C294.8,463.9 296.1,466.1 297.3,468.6C298.6,471.1 299.8,474.2 301.1,477.3C302.3,480.4 303.6,483.9 304.8,487.3C306,490.6 307.3,494.1 308.5,497.2C309.8,500.3 311,503.5 312.3,506C313.5,508.4 314.8,509.9 316,512.2C317.3,514.5 318.5,517 319.8,519.7C321,522.4 322.2,525.5 323.5,528.4C324.7,531.3 326,534.2 327.2,537.1C328.5,540 329.7,543.1 331,545.8C332.2,548.5 333.5,551.1 334.7,553.3C336,555.5 337.2,557.4 338.4,559C339.7,560.7 340.9,562.3 342.2,563.3C343.4,564.3 345,564.5 345.9,565C346.9,565.6 347.1,566.8 347.9,566.5C348.7,566.2 349.9,564.1 350.9,563.3C351.9,562.4 353.1,561.8 354.1,561.5C355.2,561.2 356.2,561.2 357.1,561.5C358,561.8 358.6,563.5 359.6,563.3C360.7,563.1 362.1,561.2 363.4,560.3C364.6,559.4 365.9,558.5 367.1,558C368.3,557.6 369.6,557.7 370.8,557.8C372.1,557.9 373.1,558.3 374.6,558.8C376,559.3 378.1,560.2 379.6,560.8C381,561.3 381.6,562 383.3,562C385,562 387.2,561.1 389.5,560.8C391.8,560.4 394.5,560.1 397,560C399.5,559.9 401.6,560 404.5,560.3C407.4,560.5 410.7,561 414.5,561.5C418.2,562 423.2,562.8 426.9,563.3C430.7,563.8 433.6,564.4 436.9,564.5C440.2,564.6 443.5,564.1 446.9,564C450.2,563.9 453.1,564.1 456.8,564C460.6,564 467.2,563.8 469.3,563.8"/>
</g>
<rect x="39" y="413.6" width="431.7" height="347" fill="none" stroke="#000" stroke-width="1.8"/>
<line x1="95.2" y1="760.6" x2="95.2" y2="767.1" stroke="#000" stroke-width="1.5" />
<line x1="170.3" y1="760.6" x2="170.3" y2="767.1" stroke="#000" stroke-width="1.5" />
<line x1="245.4" y1="760.6" x2="245.4" y2="767.1" stroke="#000" stroke-width="1.5" />
<line x1="320.5" y1="760.6" x2="320.5" y2="767.1" stroke="#000" stroke-width="1.5" />
<line x1="395.6" y1="760.6" x2="395.6" y2="767.1" stroke="#000" stroke-width="1.5" />
<line x1="470.7" y1="760.6" x2="470.7" y2="767.1" stroke="#000" stroke-width="1.5" />
<line x1="57.7" y1="760.6" x2="57.7" y2="764.1" stroke="#000" stroke-width="1.5" />
<line x1="132.8" y1="760.6" x2="132.8" y2="764.1" stroke="#000" stroke-width="1.5" />
<line x1="207.9" y1="760.6" x2="207.9" y2="764.1" stroke="#000" stroke-width="1.5" />
<line x1="282.9" y1="760.6" x2="282.9" y2="764.1" stroke="#000" stroke-width="1.5" />
<line x1="358.1" y1="760.6" x2="358.1" y2="764.1" stroke="#000" stroke-width="1.5" />
<line x1="433.1" y1="760.6" x2="433.1" y2="764.1" stroke="#000" stroke-width="1.5" />
<text x="95.2" y="780.5" font-size="16" text-anchor="middle" fill="#000" stroke="#000" font-family="Liberation Sans, sans-serif" font-weight="bold" stroke-width="0.35" stroke-linejoin="round" >1000</text>
<text x="170.3" y="780.5" font-size="16" text-anchor="middle" fill="#000" stroke="#000" font-family="Liberation Sans, sans-serif" font-weight="bold" stroke-width="0.35" stroke-linejoin="round" >1200</text>
<text x="245.4" y="780.5" font-size="16" text-anchor="middle" fill="#000" stroke="#000" font-family="Liberation Sans, sans-serif" font-weight="bold" stroke-width="0.35" stroke-linejoin="round" >1400</text>
<text x="320.5" y="780.5" font-size="16" text-anchor="middle" fill="#000" stroke="#000" font-family="Liberation Sans, sans-serif" font-weight="bold" stroke-width="0.35" stroke-linejoin="round" >1600</text>
<text x="395.6" y="780.5" font-size="16" text-anchor="middle" fill="#000" stroke="#000" font-family="Liberation Sans, sans-serif" font-weight="bold" stroke-width="0.35" stroke-linejoin="round" >1800</text>
<text x="470.7" y="780.5" font-size="16" text-anchor="middle" fill="#000" stroke="#000" font-family="Liberation Sans, sans-serif" font-weight="bold" stroke-width="0.35" stroke-linejoin="round" >2000</text>
<text x="175.3" y="798.6" font-size="18.4" text-anchor="start" fill="#000" stroke="#000" font-family="Liberation Sans, sans-serif" font-weight="bold" stroke-width="0.35" stroke-linejoin="round" textLength="158" lengthAdjust="spacingAndGlyphs" >Wavelength (nm)</text>
<text transform="translate(31.6,587) rotate(-90)" font-size="18.6" text-anchor="middle" fill="#000" stroke="#000" font-family="Liberation Sans, sans-serif" font-weight="bold" stroke-width="0.35" stroke-linejoin="round" textLength="138.5" lengthAdjust="spacingAndGlyphs">Intensity (a. u.)</text>
<text x="16.5" y="436" font-size="25" text-anchor="start" fill="#000" stroke="#000" font-family="Liberation Sans, sans-serif" font-weight="bold" stroke-width="0.35" stroke-linejoin="round" >c</text>
<line x1="95" y1="509.4" x2="95" y2="742" stroke="#000" stroke-width="2" stroke-dasharray="7.5 6.5"/>
<line x1="122.9" y1="475" x2="122.9" y2="745.7" stroke="#000" stroke-width="2" stroke-dasharray="7.5 6.5"/>
<line x1="166.9" y1="463.2" x2="166.9" y2="743.2" stroke="#000" stroke-width="2" stroke-dasharray="7.5 6.5"/>
<line x1="287" y1="453.3" x2="287" y2="743" stroke="#000" stroke-width="2" stroke-dasharray="7.5 6.5"/>
<line x1="94.2" y1="747.4" x2="96" y2="747.4" stroke="#999" stroke-width="0.7" />
<text x="61.9" y="501.5" font-size="16.4" text-anchor="start" fill="#000" stroke="#000" font-family="Liberation Sans, sans-serif" font-weight="bold" stroke-width="0.35" stroke-linejoin="round" textLength="50.2" lengthAdjust="spacingAndGlyphs" >*CH<tspan font-size="11.5" dy="3.2">3</tspan><tspan dy="-3.2">O</tspan></text>
<text x="98.9" y="469.8" font-size="16.4" text-anchor="start" fill="#000" stroke="#000" font-family="Liberation Sans, sans-serif" font-weight="bold" stroke-width="0.35" stroke-linejoin="round" textLength="44.4" lengthAdjust="spacingAndGlyphs" >*CHO</text>
<text x="137.9" y="457.9" font-size="16.4" text-anchor="start" fill="#000" stroke="#000" font-family="Liberation Sans, sans-serif" font-weight="bold" stroke-width="0.35" stroke-linejoin="round" textLength="50.2" lengthAdjust="spacingAndGlyphs" >*CH<tspan font-size="11.5" dy="3.2">3</tspan><tspan dy="-3.2">O</tspan></text>
<text x="262.9" y="446.8" font-size="16.4" text-anchor="start" fill="#000" stroke="#000" font-family="Liberation Sans, sans-serif" font-weight="bold" stroke-width="0.35" stroke-linejoin="round" textLength="57.4" lengthAdjust="spacingAndGlyphs" >*COOH</text>
<text x="393.4" y="445.9" font-size="15.8" text-anchor="start" fill="#000" stroke="#000" font-family="Liberation Sans, sans-serif" font-weight="bold" stroke-width="0.35" stroke-linejoin="round" textLength="41.6" lengthAdjust="spacingAndGlyphs" >5 min</text>
<text x="393.4" y="538.7" font-size="15.8" text-anchor="start" fill="#000" stroke="#000" font-family="Liberation Sans, sans-serif" font-weight="bold" stroke-width="0.35" stroke-linejoin="round" textLength="41.6" lengthAdjust="spacingAndGlyphs" >0 min</text>
<line x1="414.8" y1="513.8" x2="414.8" y2="463.9" stroke="#000" stroke-width="1.8" />
<path fill="#000" d="M414.8,455.4 L408.9,467.4 L414.8,464.4 L420.7,467.4 Z"/>
<g clip-path="url(#cd)">
<polyline fill="none" stroke="#fc5555" stroke-width="1.6" stroke-linejoin="round" stroke-linecap="butt"  points="520,587.3 520.6,586.9 521.6,587.2 522.8,586.7 523.9,586.8 525,586.7 525.9,586.2 526.9,586.2 528,585.7 529,585.6 529.9,585.1 530.9,584.8 531.9,584.7 533,584.8 534,584.2 534.9,584 535.9,584.4 536.9,585.1 537.9,585.4 539,585.6 539.9,586.2 540.9,585.5 541.9,585.8 542.9,585.3 543.9,584.8 544.9,584.6 545.8,584.9 546.9,585.7 547.9,586 548.9,586.6 549.9,587 550.8,587.1 551.9,587.3 553,587 554,586.8 554.9,586.7 555.9,586.9 556.9,586.6 557.8,586 558.6,585.6 559.5,584.9 560.3,584.1 561.1,583.2 561.7,582.4 562.3,581.4 563,580.4 563.6,579.5 564.1,578.7 564.6,577.8 565.1,576.8 565.6,576 566.1,575.2 566.9,574.1 567.8,573.2 568.6,572.4 569.4,572.8 570.2,573.6 571.1,574.9 571.4,575.6 571.7,576.3 572,577.2 572.3,578.2 572.6,579.2 573,580.2 573.3,581.1 573.6,582 573.8,582.8 574.2,583.8 574.5,584.8 574.8,585.9 575.1,586.9 575.4,587.9 575.8,588.7 576,589.5 576.7,590.7 577.3,591.7 578,592.5 578.5,593.2 579.5,593.4 580.5,593.4 581.3,593 582.2,592.2 583,591.3 583.5,590.6 584,589.8 584.6,588.8 585.1,587.8 585.5,586.9 585.9,586.2 586.2,585.5 586.6,584.8 586.9,583.6 587.3,582 587.3,581.4 587.4,580.8 587.5,580.1 587.6,579.3 587.7,578.5 587.9,577.7 588,576.8 588.1,575.8 588.2,574.9 588.3,573.9 588.4,572.8 588.5,571.8 588.6,570.8 588.7,569.7 588.8,568.7 589,567.6 589.1,566.6 589.2,565.5 589.3,564.5 589.3,563.8 589.4,563 589.5,562.2 589.5,561.4 589.6,560.5 589.7,559.6 589.8,558.6 589.8,557.7 589.9,556.7 590,555.7 590.1,554.7 590.1,553.7 590.2,552.6 590.3,551.6 590.4,550.6 590.4,549.6 590.5,548.6 590.6,547.6 590.7,546.6 590.7,545.6 590.8,544.6 590.9,543.7 591,542.8 591,542 591.1,541.1 591.2,540.3 591.2,539.6 591.3,538.6 591.4,537.6 591.5,536.5 591.6,535.5 591.7,534.4 591.8,533.4 591.9,532.3 592,531.2 592.1,530.2 592.2,529.2 592.3,528.1 592.5,527.2 592.6,526.2 592.7,525.3 592.8,524.4 592.9,523.6 593,522.8 593.1,522.1 593.1,521.5 593.2,520.9 593.6,519.2 593.9,517.8 594.2,516.7 594.6,515.9 594.9,515.5 595.2,515.1 595.5,515.5 595.8,515.9 596.1,516.6 596.4,517.5 596.7,518.8 597,520.3 597.2,522.1 597.3,522.7 597.4,523.3 597.4,524 597.5,524.7 597.6,525.4 597.7,526.2 597.7,527 597.8,527.9 597.9,528.8 598,529.7 598.1,530.7 598.1,531.7 598.2,532.7 598.3,533.7 598.4,534.7 598.4,535.7 598.5,536.8 598.6,537.8 598.7,538.9 598.8,540 598.8,541 598.9,542.1 599,543.1 599,544.1 599.1,545.1 599.2,546.1 599.2,547.1 599.3,547.8 599.3,548.5 599.4,549.3 599.4,550.1 599.4,550.8 599.5,551.6 599.5,552.4 599.6,553.2 599.6,554.1 599.6,554.9 599.7,555.8 599.7,556.6 599.8,557.5 599.8,558.4 599.9,559.3 599.9,560.2 599.9,561.1 600,562 600,562.9 600.1,563.8 600.1,564.8 600.1,565.7 600.2,566.7 600.2,567.6 600.3,568.6 600.3,569.6 600.4,570.5 600.4,571.5 600.4,572.5 600.5,573.5 600.5,574.5 600.6,575.5 600.6,576.5 600.6,577.5 600.7,578.5 600.7,579.5 600.7,580.2 600.8,580.9 600.8,581.6 600.8,582.4 600.9,583.2 600.9,584.1 600.9,584.9 601,585.8 601,586.7 601,587.6 601.1,588.5 601.1,589.4 601.1,590.4 601.2,591.4 601.2,592.4 601.2,593.4 601.3,594.4 601.3,595.4 601.3,596.4 601.4,597.4 601.4,598.5 601.4,599.5 601.5,600.6 601.5,601.6 601.5,602.7 601.6,603.7 601.6,604.8 601.7,605.8 601.7,606.8 601.7,607.9 601.8,608.9 601.8,609.9 601.8,610.9 601.9,611.9 601.9,612.9 601.9,613.9 602,614.8 602,615.8 602,616.7 602.1,617.6 602.1,618.5 602.1,619.4 602.2,620.2 602.2,621.1 602.2,621.9 602.3,622.7 602.3,623.4 602.3,624.1 602.4,624.8 602.4,625.5 602.4,626.1 602.4,626.7 602.5,627.3 602.5,628.8 602.6,630.2 602.7,631.5 602.7,632.7 602.8,633.9 602.9,634.9 602.9,635.9 603,636.8 603.1,637.7 603.1,638.5 603.2,639.3 603.3,640.1 603.3,640.8 603.4,641.5 603.4,642.1 603.5,642.8 603.6,643.5 603.6,644.1 603.7,644.8 603.8,645.9 603.9,647 604.1,648.1 604.2,649.3 604.3,650.4 604.4,651.4 604.6,652.4 604.7,653.3 604.8,654.1 605,654.7 605.1,655.2 605.2,655.5 605.4,655.4 605.7,655 606,654 606.2,652.8 606.5,651.3 606.7,649.7 606.8,649.1 606.9,648.4 607,647.6 607.1,646.8 607.2,645.9 607.2,644.9 607.3,643.9 607.4,642.9 607.5,641.9 607.6,640.8 607.7,639.8 607.8,638.7 607.9,637.7 608,636.7 608.1,635.7 608.2,634.8 608.3,634 608.3,633.2 608.4,632.3 608.5,631.4 608.6,630.5 608.7,629.5 608.7,628.5 608.8,627.6 608.9,626.6 609,625.6 609.1,624.6 609.1,623.6 609.2,622.6 609.3,621.7 609.4,620.7 609.5,619.8 609.5,619 609.6,618.1 609.7,617.4 609.8,616.4 609.9,615.5 610,614.5 610,613.4 610.1,612.4 610.2,611.4 610.3,610.3 610.4,609.3 610.5,608.3 610.6,607.3 610.7,606.4 610.8,605.5 610.9,604.6 611,603.8 611.1,603.1 611.2,602.4 611.4,601.2 611.5,600 611.7,599 611.9,598 612.1,597.1 612.3,596.3 612.5,595.6 612.7,594.9 613.1,593.8 613.6,592.8 614.2,591.9 614.7,591.2 615.4,590.3 616.3,589.5 617.2,589 618,589.1 618.9,588.6 619.9,588.7 620.9,588.6 621.8,588.4 622.8,587.9 623.9,587.5 624.9,586.9 625.9,586.8 626.9,586.8 627.9,587.7 629,588 630,588.2 630.9,588.4 631.8,589.2 632.7,589.8 633.7,590.1 634.6,589.9 635.5,589.6 636.5,589.3 637.6,589.2 638.6,588.8 639.6,588.7 640.6,588.3 641.6,588.7 642.7,588.7 643.7,588.2 644.6,587.5 645.3,587 646,586.1 646.7,585.1 647.3,584.1 647.8,583.2 648.2,582.4 648.5,581.6 648.8,580.6 649.1,579.7 649.5,578.7 649.8,577.8 650.1,577 650.4,576 650.9,575 651.3,574 651.7,573 652.2,572.1 652.6,571.5 653.4,570.5 654.2,569.9 655,569.7 655.9,570.1 656.7,570.9 657.5,572.1 657.8,572.7 658.1,573.5 658.5,574.4 658.8,575.5 659.1,576.5 659.4,577.6 659.7,578.6 660,579.5 660.3,580.4 660.6,581.4 661,582.4 661.3,583.4 661.6,584.4 661.9,585.4 662.2,586.2 662.5,587 663.1,588.3 663.8,589.6 664.4,590.6 665,590.9 665.3,590.6 665.6,590 665.9,589.3 666.2,588.4 666.5,587.3 666.8,586 667,584.5 667.1,583.9 667.2,583.3 667.2,582.7 667.3,582 667.4,581.4 667.5,580.6 667.6,579.9 667.6,579.1 667.7,578.3 667.8,577.4 667.9,576.5 668,575.6 668,574.6 668.1,573.6 668.2,572.6 668.3,571.6 668.4,570.5 668.4,569.3 668.5,568.2 668.6,567 668.7,565.8 668.8,564.5 668.8,563.9 668.8,563.3 668.9,562.6 668.9,561.9 668.9,561.2 669,560.5 669,559.7 669.1,559 669.1,558.2 669.1,557.4 669.2,556.5 669.2,555.7 669.3,554.8 669.3,553.9 669.4,553.1 669.4,552.1 669.4,551.2 669.5,550.3 669.5,549.4 669.6,548.4 669.6,547.4 669.7,546.5 669.7,545.5 669.8,544.5 669.8,543.5 669.8,542.5 669.9,541.5 669.9,540.5 670,539.5 670,538.5 670.1,537.5 670.1,536.5 670.2,535.5 670.2,534.5 670.3,533.5 670.3,532.5 670.3,531.6 670.4,530.6 670.4,529.6 670.5,528.6 670.5,527.7 670.5,526.7 670.6,525.8 670.6,524.9 670.7,523.9 670.7,523 670.7,522.1 670.8,521.4 670.8,520.6 670.8,519.8 670.9,519 670.9,518.1 671,517.3 671,516.4 671,515.5 671.1,514.6 671.1,513.6 671.1,512.7 671.2,511.7 671.2,510.8 671.2,509.8 671.3,508.8 671.3,507.8 671.4,506.8 671.4,505.8 671.4,504.8 671.5,503.8 671.5,502.8 671.5,501.8 671.6,500.7 671.6,499.7 671.7,498.7 671.7,497.6 671.7,496.6 671.8,495.6 671.8,494.6 671.9,493.6 671.9,492.6 671.9,491.5 672,490.6 672,489.6 672,488.6 672.1,487.6 672.1,486.7 672.2,485.7 672.2,484.8 672.2,483.9 672.3,482.9 672.3,482.1 672.3,481.2 672.4,480.3 672.4,479.5 672.4,478.7 672.5,477.9 672.5,477.1 672.5,476.3 672.6,475.6 672.6,474.9 672.6,474.2 672.7,473.5 672.7,472.9 672.7,472.3 672.8,471 672.9,469.6 673,468.4 673,467.1 673.1,465.9 673.2,464.7 673.3,463.5 673.3,462.4 673.4,461.3 673.5,460.2 673.6,459.2 673.6,458.2 673.7,457.3 673.8,456.4 673.9,455.5 673.9,454.7 674,453.9 674.1,453.2 674.1,452.5 674.2,451.9 674.3,451.3 674.4,450.8 674.4,450.3 674.5,449.9 675.4,447.4 676.2,451.2 676.3,451.6 676.3,452.1 676.4,452.6 676.4,453.2 676.5,453.8 676.5,454.5 676.5,455.2 676.6,456 676.6,456.7 676.7,457.5 676.7,458.4 676.8,459.3 676.8,460.2 676.9,461.1 676.9,462 677,463 677,464 677.1,465 677.1,466 677.2,467 677.2,468.1 677.3,469.1 677.3,470.2 677.4,471.3 677.4,472.3 677.5,473.4 677.5,474.5 677.6,475.5 677.6,476.6 677.7,477.7 677.7,478.7 677.8,479.8 677.8,480.8 677.9,481.8 677.9,482.8 677.9,483.8 678,484.8 678,485.5 678,486.2 678.1,487 678.1,487.8 678.1,488.6 678.2,489.4 678.2,490.2 678.2,491.1 678.3,491.9 678.3,492.8 678.3,493.6 678.3,494.5 678.4,495.4 678.4,496.3 678.4,497.2 678.5,498.2 678.5,499.1 678.5,500 678.6,501 678.6,501.9 678.6,502.9 678.7,503.9 678.7,504.8 678.7,505.8 678.8,506.8 678.8,507.8 678.8,508.7 678.9,509.7 678.9,510.7 678.9,511.7 679,512.7 679,513.6 679,514.6 679,515.6 679.1,516.6 679.1,517.6 679.1,518.5 679.2,519.5 679.2,520.4 679.2,521.4 679.3,522.3 679.3,523.3 679.3,524.2 679.3,525.1 679.4,526.1 679.4,527 679.4,527.9 679.4,528.8 679.5,529.6 679.5,530.4 679.5,531.2 679.5,532 679.6,532.8 679.6,533.6 679.6,534.5 679.6,535.3 679.7,536.2 679.7,537 679.7,537.9 679.7,538.8 679.7,539.7 679.8,540.6 679.8,541.5 679.8,542.4 679.8,543.3 679.9,544.2 679.9,545.1 679.9,546.1 679.9,547 680,547.9 680,548.9 680,549.8 680,550.8 680,551.7 680.1,552.7 680.1,553.6 680.1,554.6 680.1,555.5 680.2,556.5 680.2,557.4 680.2,558.4 680.2,559.4 680.3,560.3 680.3,561.3 680.3,562.2 680.3,563.2 680.3,564.1 680.4,565.1 680.4,566 680.4,566.9 680.4,567.9 680.5,568.8 680.5,569.7 680.5,570.7 680.5,571.6 680.5,572.5 680.6,573.4 680.6,574.3 680.6,575.2 680.6,576 680.7,576.9 680.7,577.8 680.7,578.6 680.7,579.5 680.7,580.3 680.8,581.1 680.8,581.9 680.8,582.8 680.8,583.6 680.8,584.5 680.9,585.4 680.9,586.3 680.9,587.2 680.9,588.1 680.9,589 681,590 681,590.9 681,591.8 681,592.8 681.1,593.8 681.1,594.7 681.1,595.7 681.1,596.7 681.1,597.7 681.2,598.6 681.2,599.6 681.2,600.6 681.2,601.6 681.3,602.6 681.3,603.6 681.3,604.6 681.3,605.6 681.4,606.6 681.4,607.6 681.4,608.6 681.4,609.6 681.4,610.5 681.5,611.5 681.5,612.5 681.5,613.5 681.5,614.4 681.6,615.4 681.6,616.3 681.6,617.3 681.6,618.2 681.6,619.1 681.7,620.1 681.7,621 681.7,621.9 681.7,622.7 681.8,623.6 681.8,624.5 681.8,625.3 681.8,626.2 681.8,627 681.9,627.8 681.9,628.6 681.9,629.4 681.9,630.1 681.9,630.9 681.9,631.6 682,632.3 682,633.3 682,634.3 682,635.3 682.1,636.3 682.1,637.3 682.1,638.3 682.1,639.3 682.2,640.3 682.2,641.3 682.2,642.2 682.2,643.2 682.3,644.2 682.3,645.2 682.3,646.2 682.3,647.2 682.4,648.1 682.4,649.1 682.4,650.1 682.4,651 682.5,652 682.5,652.9 682.5,653.8 682.5,654.8 682.6,655.7 682.6,656.6 682.6,657.5 682.6,658.4 682.7,659.3 682.7,660.1 682.7,661 682.7,661.9 682.8,662.7 682.8,663.5 682.8,664.3 682.8,665.2 682.8,665.9 682.9,666.7 682.9,667.5 682.9,668.2 682.9,669 683,669.7 683,670.7 683,671.6 683,672.6 683.1,673.6 683.1,674.6 683.1,675.6 683.2,676.6 683.2,677.6 683.2,678.6 683.3,679.6 683.3,680.6 683.3,681.5 683.4,682.5 683.4,683.5 683.4,684.4 683.5,685.4 683.5,686.3 683.5,687.3 683.6,688.2 683.6,689.1 683.6,690 683.7,690.8 683.7,691.7 683.7,692.5 683.8,693.3 683.8,694.1 683.8,694.9 683.9,695.7 683.9,696.4 684,697.1 684,698.2 684.1,699.3 684.1,700.4 684.2,701.6 684.3,702.8 684.4,704 684.4,705.3 684.5,706.5 684.6,707.6 684.7,708.8 684.8,709.9 684.8,710.9 684.9,711.8 685,712.7 685.1,713.5 685.2,714.2 685.2,714.8 685.3,715.3 685.4,715.6 685.5,715.8 685.5,715.6 685.6,715.6 685.7,715.3 685.8,714.8 685.9,714.1 686,713.3 686.1,712.3 686.3,711.3 686.4,710.1 686.5,708.9 686.6,707.6 686.7,706.2 686.8,704.9 686.9,703.5 686.9,702.1 687,701.5 687,700.9 687.1,700.2 687.1,699.5 687.1,698.8 687.2,698 687.2,697.2 687.3,696.4 687.3,695.6 687.3,694.7 687.4,693.8 687.4,692.9 687.5,692 687.5,691.1 687.6,690.1 687.6,689.2 687.7,688.2 687.7,687.2 687.7,686.2 687.8,685.2 687.8,684.2 687.9,683.2 687.9,682.2 688,681.2 688,680.2 688,679.2 688.1,678.2 688.1,677.2 688.2,676.2 688.2,675.2 688.2,674.3 688.3,673.3 688.3,672.4 688.4,671.5 688.4,670.6 688.4,669.7 688.5,668.9 688.5,668.1 688.5,667.3 688.6,666.4 688.6,665.6 688.6,664.7 688.7,663.8 688.7,662.9 688.8,662 688.8,661 688.8,660.1 688.9,659.1 688.9,658.2 688.9,657.2 689,656.2 689,655.2 689.1,654.2 689.1,653.2 689.1,652.2 689.2,651.2 689.2,650.2 689.2,649.2 689.3,648.2 689.3,647.2 689.4,646.3 689.4,645.3 689.4,644.3 689.5,643.4 689.5,642.4 689.6,641.5 689.6,640.5 689.6,639.6 689.7,638.7 689.7,637.9 689.7,637 689.8,636.2 689.8,635.4 689.8,634.6 689.9,633.8 689.9,633 689.9,632.3 690,631.3 690,630.3 690.1,629.3 690.1,628.3 690.2,627.3 690.2,626.3 690.3,625.2 690.3,624.2 690.4,623.2 690.4,622.1 690.5,621.1 690.5,620.1 690.6,619.1 690.6,618 690.7,617.1 690.8,616.1 690.8,615.1 690.9,614.2 690.9,613.2 691,612.3 691,611.4 691.1,610.6 691.1,609.8 691.2,609 691.2,608.2 691.3,607.5 691.3,606.8 691.3,606.1 691.4,605.5 691.4,604.9 691.5,603.4 691.7,602.1 691.8,601 691.9,599.9 692,599 692.1,598.1 692.2,597.4 692.4,596.7 692.5,596 692.6,595.5 692.7,594.9 693.1,593.4 693.5,592.4 693.9,592.3 694.8,592.2 695.7,593.1 695.9,593.7 696.2,594.5 696.6,595.5 696.9,596.6 697.2,597.7 697.4,598.7 697.6,599.5 697.8,600.4 698,601.3 698.3,602.3 698.5,603.2 698.7,604.1 698.9,604.9 699.3,606 699.7,607.3 700.1,608.5 700.5,609.4 700.9,609.5 701.5,609.4 702.1,608.5 702.6,607.3 702.9,606.7 703.2,605.8 703.6,604.9 703.9,603.9 704.2,602.9 704.6,602 704.9,601.1 705.3,600.2 705.7,599.3 706.1,598.4 706.6,597.6 707,596.8 707.4,596.2 708.2,595.2 709.1,594.4 709.9,593.7 710.5,592.8 711.1,591.8 711.8,590.8 712.4,589.9 713.2,588.9 714,588 714.9,587.4 715.6,587.1 716.4,586.8 717.3,586.2 718.1,585.6 719,584.9 719.9,584.4 720.9,583.9 721.8,583.6 722.5,584.1 723.3,584.8 724.1,585.8 724.9,586.6 725.6,586.8 726.5,587.3 727.5,586.6 728.5,586.2 729.3,585.6 729.9,585.1 730.6,584.3 731.2,583.6 731.8,582.7 732.3,581.9 732.7,581.3 733.2,580.4 733.6,579.6 734,578.7 734.4,577.8 734.8,577 735.1,576.2 735.5,575.3 735.9,574.3 736.3,573.4 736.6,572.4 737,571.5 737.3,570.8 737.7,569.7 738.1,568.5 738.5,567.5 738.9,566.5 739.3,565.8 740.3,564.4 741.3,564 741.7,564.4 742.1,565.1 742.5,566 742.9,567.1 743.3,568.2 743.5,569 743.7,569.9 743.9,570.9 744.2,572 744.4,573.1 744.6,574.2 744.8,575.2 745.1,576.2 745.3,577 745.5,578 745.8,579.1 746.1,580.1 746.4,581.1 746.7,582.1 747,582.7 747.3,583.2 748.1,584.1 748.9,581.9 749,581.5 749,580.9 749.1,580.3 749.2,579.7 749.2,579 749.3,578.2 749.3,577.4 749.4,576.6 749.5,575.7 749.5,574.7 749.6,573.8 749.7,572.8 749.7,571.8 749.8,570.7 749.9,569.6 749.9,568.5 750,567.4 750,566.3 750.1,565.2 750.2,564.1 750.2,562.9 750.3,561.8 750.3,560.7 750.4,559.5 750.4,558.9 750.5,558.2 750.5,557.4 750.5,556.7 750.6,555.9 750.6,555.1 750.6,554.3 750.7,553.4 750.7,552.6 750.8,551.7 750.8,550.8 750.8,549.9 750.9,549 750.9,548 750.9,547.1 751,546.1 751,545.1 751,544.2 751.1,543.2 751.1,542.2 751.2,541.2 751.2,540.2 751.2,539.2 751.3,538.2 751.3,537.2 751.3,536.2 751.4,535.2 751.4,534.2 751.5,533.2 751.5,532.2 751.5,531.2 751.6,530.2 751.6,529.3 751.6,528.3 751.7,527.4 751.7,526.5 751.8,525.6 751.8,524.7 751.8,523.8 751.9,523 751.9,522.1 751.9,521.3 752,520.5 752,519.6 752.1,518.7 752.1,517.8 752.1,516.9 752.2,515.9 752.2,515 752.3,514 752.3,513.1 752.3,512.1 752.4,511.1 752.4,510.1 752.5,509.1 752.5,508.1 752.6,507.1 752.6,506.1 752.7,505.1 752.7,504.1 752.7,503 752.8,502 752.8,501 752.9,500.1 752.9,499.1 753,498.1 753,497.1 753.1,496.2 753.1,495.2 753.2,494.3 753.2,493.4 753.2,492.5 753.3,491.6 753.3,490.8 753.4,489.9 753.4,489.1 753.5,488.3 753.5,487.6 753.5,486.8 753.6,486.1 753.6,485.4 753.6,484.8 753.7,483.6 753.8,482.5 753.8,481.3 753.9,480.2 754,479.1 754,478 754.1,476.9 754.2,475.8 754.2,474.8 754.3,473.8 754.4,472.8 754.5,471.8 754.5,470.9 754.6,469.9 754.7,469.1 754.7,468.2 754.8,467.4 754.8,466.7 754.9,466 755,465.3 755,464.7 755.1,464.1 755.1,463.6 755.5,461.3 755.8,460.1 756.1,459.8 756.4,460 756.6,460.1 756.7,460.5 756.9,461 757.1,461.7 757.3,462.6 757.5,463.9 757.7,465.4 757.9,467.3 757.9,467.9 758,468.4 758,469 758,469.7 758.1,470.4 758.1,471.1 758.1,471.8 758.2,472.6 758.2,473.4 758.3,474.3 758.3,475.2 758.3,476 758.4,477 758.4,477.9 758.5,478.9 758.5,479.8 758.5,480.8 758.6,481.8 758.6,482.8 758.7,483.8 758.7,484.9 758.7,485.9 758.8,486.9 758.8,488 758.8,489 758.9,490.1 758.9,491.1 759,492.2 759,493.2 759,494.2 759.1,495.2 759.1,496.2 759.1,497.2 759.2,497.9 759.2,498.7 759.2,499.4 759.2,500.2 759.3,500.9 759.3,501.7 759.3,502.6 759.3,503.4 759.4,504.2 759.4,505.1 759.4,506 759.4,506.9 759.5,507.8 759.5,508.7 759.5,509.6 759.6,510.5 759.6,511.5 759.6,512.4 759.6,513.4 759.7,514.3 759.7,515.3 759.7,516.2 759.8,517.2 759.8,518.2 759.8,519.2 759.8,520.2 759.9,521.1 759.9,522.1 759.9,523.1 759.9,524.1 760,525 760,526 760,527 760.1,527.9 760.1,528.9 760.1,529.8 760.1,530.8 760.2,531.7 760.2,532.6 760.2,533.6 760.2,534.5 760.3,535.3 760.3,536.2 760.3,537.1 760.3,537.9 760.4,538.8 760.4,539.6 760.4,540.4 760.4,541.2 760.4,542 760.5,542.8 760.5,543.6 760.5,544.4 760.5,545.1 760.5,545.9 760.6,546.7 760.6,547.5 760.6,548.3 760.6,549 760.6,549.8 760.7,550.6 760.7,551.4 760.7,552.2 760.7,552.9 760.7,553.7 760.8,554.5 760.8,555.3 760.8,556.2 760.8,557 760.8,557.8 760.9,558.6 760.9,559.5 760.9,560.4 760.9,561.2 761,562.1 761,563 761,563.9 761,564.8 761,565.8 761.1,566.7 761.1,567.7 761.1,568.6 761.1,569.6 761.1,570.7 761.2,571.7 761.2,572.8 761.2,573.8 761.2,574.9 761.3,576 761.3,577.2 761.3,578.3 761.3,579.5 761.3,580.7 761.4,582 761.4,582.6 761.4,583.2 761.4,583.9 761.4,584.5 761.4,585.2 761.4,585.9 761.5,586.6 761.5,587.4 761.5,588.1 761.5,588.9 761.5,589.7 761.5,590.5 761.5,591.3 761.6,592.2 761.6,593 761.6,593.9 761.6,594.7 761.6,595.6 761.6,596.5 761.6,597.4 761.7,598.4 761.7,599.3 761.7,600.2 761.7,601.2 761.7,602.1 761.7,603.1 761.7,604.1 761.8,605.1 761.8,606.1 761.8,607.1 761.8,608.1 761.8,609.1 761.8,610.1 761.9,611.2 761.9,612.2 761.9,613.3 761.9,614.3 761.9,615.3 761.9,616.4 762,617.5 762,618.5 762,619.6 762,620.6 762,621.7 762,622.8 762.1,623.9 762.1,624.9 762.1,626 762.1,627.1 762.1,628.1 762.1,629.2 762.2,630.3 762.2,631.3 762.2,632.4 762.2,633.4 762.2,634.5 762.2,635.6 762.3,636.6 762.3,637.6 762.3,638.7 762.3,639.7 762.3,640.7 762.4,641.8 762.4,642.8 762.4,643.8 762.4,644.8 762.4,645.8 762.4,646.7 762.5,647.7 762.5,648.7 762.5,649.6 762.5,650.6 762.5,651.5 762.5,652.4 762.5,653.3 762.6,654.2 762.6,655.1 762.6,656 762.6,656.9 762.6,657.7 762.6,658.6 762.7,659.4 762.7,660.2 762.7,661 762.7,661.7 762.7,662.5 762.7,663.3 762.7,664 762.8,664.7 762.8,665.4 762.8,666.1 762.8,666.7 762.8,667.3 762.8,668 762.8,668.6 762.9,669.1 762.9,669.7 762.9,671.3 762.9,672.8 763,674.2 763,675.6 763,676.9 763.1,678.1 763.1,679.3 763.2,680.4 763.2,681.5 763.2,682.6 763.3,683.6 763.3,684.5 763.3,685.4 763.4,686.3 763.4,687.1 763.4,687.9 763.5,688.7 763.5,689.5 763.6,690.2 763.6,690.9 763.6,691.6 763.7,692.3 763.7,693 763.7,693.6 763.8,694.3 763.8,694.9 763.9,695.6 763.9,696.2 763.9,696.9 764,697.5 764,698.2 764.1,698.9 764.1,699.6 764.2,700.6 764.2,701.6 764.3,702.7 764.4,703.9 764.5,705 764.5,706.2 764.6,707.4 764.7,708.6 764.8,709.8 764.9,710.9 765,712.1 765.1,713.2 765.2,714.3 765.3,715.3 765.4,716.3 765.4,717.2 765.5,718.1 765.6,718.9 765.7,719.6 765.8,720.2 765.9,720.7 766,721.1 766,721.4 766.1,721.5 766.2,721.5 766.3,721.4 766.4,721.1 766.5,720.6 766.6,720 766.7,719.2 766.8,718.3 766.9,717.3 767,716.2 767.1,715.1 767.2,713.9 767.3,712.6 767.4,711.3 767.5,709.9 767.6,708.6 767.7,707.2 767.8,705.9 767.9,704.6 767.9,703.9 767.9,703.3 768,702.6 768,701.9 768,701.1 768.1,700.3 768.1,699.5 768.2,698.7 768.2,697.8 768.2,696.9 768.3,696 768.3,695.1 768.4,694.2 768.4,693.2 768.4,692.3 768.5,691.3 768.5,690.3 768.6,689.3 768.6,688.3 768.7,687.3 768.7,686.3 768.7,685.2 768.8,684.2 768.8,683.2 768.9,682.2 768.9,681.1 768.9,680.1 769,679.1 769,678.1 769,677.1 769.1,676.1 769.1,675.2 769.2,674.2 769.2,673.3 769.2,672.4 769.3,671.4 769.3,670.6 769.3,669.7 769.4,668.9 769.4,668.1 769.4,667.2 769.5,666.4 769.5,665.5 769.6,664.6 769.6,663.7 769.6,662.8 769.7,661.9 769.7,660.9 769.7,660 769.8,659 769.8,658.1 769.8,657.1 769.9,656.1 769.9,655.1 770,654.2 770,653.2 770,652.2 770.1,651.2 770.1,650.2 770.2,649.2 770.2,648.3 770.2,647.3 770.3,646.3 770.3,645.3 770.3,644.4 770.4,643.4 770.4,642.5 770.5,641.6 770.5,640.7 770.5,639.7 770.6,638.9 770.6,638 770.6,637.1 770.7,636.3 770.7,635.4 770.7,634.6 770.8,633.8 770.8,633.1 770.8,632.3 770.9,631.4 770.9,630.4 771,629.5 771,628.5 771.1,627.5 771.1,626.6 771.1,625.6 771.2,624.6 771.2,623.6 771.3,622.6 771.3,621.6 771.4,620.6 771.4,619.6 771.5,618.6 771.5,617.6 771.6,616.6 771.6,615.6 771.7,614.6 771.7,613.7 771.8,612.7 771.8,611.8 771.8,610.9 771.9,610 771.9,609.1 772,608.3 772,607.4 772.1,606.6 772.1,605.9 772.2,605.1 772.2,604.4 772.3,603.7 772.3,603 772.3,602.4 772.4,601.2 772.5,600 772.6,598.8 772.7,597.7 772.8,596.6 772.9,595.6 773,594.6 773.1,593.6 773.2,592.7 773.2,591.8 773.3,591 773.4,590.2 773.5,589.5 773.6,588.8 773.7,588.1 773.8,587.4 774,586.3 774.3,585.1 774.5,584.1 774.8,583.2 775,582.4 775.3,581.6 775.6,581 775.8,580.5 776.6,579.3 777.5,578.4 778.3,578.9 778.8,579.3 779.3,580.1 779.8,581.3 780.3,582.5 780.5,583.2 780.8,584 781,585 781.3,586 781.5,587 781.8,588.1 782.1,589 782.3,589.9 782.6,590.8 782.9,591.8 783.2,592.8 783.5,593.9 783.9,594.9 784.2,595.9 784.5,596.7 784.8,597.4 785.4,598.7 786,599.6 786.7,600.5 787.3,601.1 788.5,601.7 789.8,602.1 790.3,601.4 790.8,600.5 791.3,599.5 791.8,598.4 792.3,597.4 792.7,596.6 793.1,595.6 793.5,594.6 794,593.7 794.4,592.8 794.8,591.9 795.2,591 795.7,590 796.2,589.1 796.7,588.4 797.3,588.3 798.1,588.5 799.1,588.5 800.1,589.2 801,589.7 801.9,590 802.9,590.6 803.8,589.9 804.7,589.6 805.4,589.4 806.2,589 807,588.3 807.8,587.5 808.5,587 809.4,586.5 810.3,585.7 811.3,585.2 812.2,584.8 813.1,584.9 814.1,585.6 815.1,586.2 816,586.6 816.8,586.9 817.8,587.6 818.8,587.6 819.7,588.2 820.6,587.8 821.6,587.4 822.6,587.8 823.4,587.3 824.3,587 825.2,586.3 826,585.5 826.7,584.5 827.1,583.8 827.5,583 827.8,582.2 828.1,581 828.4,579.5 828.5,578.9 828.6,578.2 828.7,577.5 828.8,576.7 828.9,575.9 829,575 829.2,574.1 829.3,573.1 829.4,572.1 829.5,571.1 829.6,570 829.7,569 829.8,567.9 829.9,566.8 830,565.6 830.2,564.5 830.2,563.8 830.3,563.1 830.4,562.3 830.4,561.5 830.5,560.6 830.6,559.7 830.6,558.8 830.7,557.9 830.8,556.9 830.9,555.9 830.9,554.9 831,553.9 831.1,552.9 831.2,551.8 831.3,550.8 831.3,549.8 831.4,548.7 831.5,547.7 831.6,546.7 831.6,545.7 831.7,544.8 831.8,543.8 831.9,542.9 831.9,542 832,541.2 832.1,540.4 832.1,539.6 832.2,538.7 832.3,537.7 832.4,536.7 832.5,535.7 832.6,534.7 832.7,533.7 832.8,532.7 832.9,531.6 833,530.6 833.1,529.6 833.2,528.6 833.3,527.6 833.4,526.6 833.4,525.7 833.5,524.8 833.6,523.9 833.7,523.1 833.8,522.3 833.9,521.5 834,520.9 834.1,520.2 834.1,519.7 834.4,518.1 834.6,516.7 834.9,515.6 835.2,514.7 835.4,514 835.7,513.5 835.9,512.9 836.1,513.3 836.4,513.7 836.6,514.3 836.9,515.2 837.1,516.4 837.4,517.8 837.6,519.7 837.7,520.2 837.8,520.8 837.8,521.5 837.9,522.2 838,522.9 838.1,523.7 838.1,524.5 838.2,525.4 838.3,526.3 838.4,527.2 838.5,528.2 838.5,529.1 838.6,530.1 838.7,531.2 838.8,532.2 838.9,533.2 838.9,534.3 839,535.3 839.1,536.4 839.2,537.5 839.2,538.5 839.3,539.6 839.4,540.6 839.4,541.6 839.5,542.6 839.6,543.6 839.6,544.6 839.7,545.3 839.7,546.1 839.7,546.8 839.8,547.6 839.8,548.5 839.9,549.3 839.9,550.2 839.9,551.1 840,551.9 840,552.9 840.1,553.8 840.1,554.7 840.1,555.6 840.2,556.6 840.2,557.6 840.2,558.5 840.3,559.5 840.3,560.5 840.3,561.4 840.4,562.4 840.4,563.4 840.4,564.4 840.5,565.3 840.5,566.3 840.5,567.3 840.6,568.2 840.6,569.2 840.6,570.1 840.7,571 840.7,571.9 840.7,572.8 840.8,573.7 840.8,574.5 840.8,575.4 840.8,576.2 840.9,577 840.9,577.8 840.9,578.7 841,579.6 841,580.5 841,581.5 841.1,582.4 841.1,583.4 841.1,584.3 841.1,585.3 841.2,586.3 841.2,587.3 841.2,588.3 841.3,589.3 841.3,590.3 841.3,591.3 841.4,592.2 841.4,593.2 841.4,594.2 841.4,595.2 841.5,596.2 841.5,597.1 841.5,598.1 841.6,599 841.6,599.9 841.6,600.8 841.7,601.7 841.7,602.6 841.7,603.5 841.7,604.3 841.8,605.1 841.8,605.9 841.8,606.6 841.9,607.4 841.9,608.4 842,609.4 842,610.4 842.1,611.4 842.1,612.4 842.2,613.4 842.2,614.4 842.3,615.4 842.3,616.4 842.4,617.4 842.4,618.4 842.5,619.3 842.5,620.3 842.6,621.2 842.6,622.2 842.7,623.1 842.8,624 842.8,624.9 842.9,625.8 842.9,626.6 843,627.5 843,628.3 843.1,629.1 843.1,629.8 843.2,630.8 843.2,631.8 843.3,632.8 843.4,633.8 843.4,634.8 843.5,635.9 843.6,636.9 843.6,637.9 843.7,638.9 843.8,639.9 843.8,640.9 843.9,641.9 844,642.8 844,643.7 844.1,644.5 844.2,645.3 844.2,646 844.3,646.7 844.4,647.3 844.6,648.7 844.8,650 845,651.2 845.2,652.2 845.4,652.9 845.7,653.3 845.9,653.3 846.1,653.2 846.3,652.7 846.5,652 846.7,651 846.9,649.9 847.2,648.6 847.4,647.3 847.4,646.6 847.5,645.9 847.6,645.1 847.7,644.3 847.8,643.4 847.9,642.4 848,641.4 848.1,640.4 848.2,639.4 848.3,638.3 848.4,637.3 848.5,636.2 848.6,635.2 848.7,634.2 848.8,633.2 848.8,632.3 848.9,631.5 849,630.7 849.1,629.8 849.1,628.9 849.2,628 849.3,627 849.4,626.1 849.5,625.1 849.5,624.1 849.6,623.1 849.7,622.1 849.8,621.1 849.9,620.1 849.9,619.2 850,618.3 850.1,617.4 850.2,616.5 850.3,615.7 850.3,614.9 850.4,613.9 850.5,613 850.6,612 850.7,611 850.8,610 851,608.9 851.1,607.9 851.2,606.9 851.3,605.9 851.4,604.9 851.5,604 851.6,603.1 851.8,602.2 851.9,601.4 852,600.6 852.1,599.9 852.3,598.7 852.5,597.6 852.7,596.5 852.9,595.5 853.2,594.5 853.4,593.6 853.6,592.8 853.9,591.9 854.1,591.2 854.4,590.1 854.8,589 855.3,588 855.7,587.1 856.1,586.2 856.6,585.4 857.1,584.7 857.7,583.9 858.4,583.3 859,582.7 859.6,582.1 860.3,581.2 861.1,580.2 861.9,579.5 862.6,578.6 863.4,577.8 864.3,577.3 865,576.9 866.1,577.1 867,577.7 867.3,578.2 867.6,578.8 867.9,579.6 868.2,580.6 868.5,581.6 868.8,582.7 869,583.7 869.2,584.4 869.3,585.3 869.5,586.2 869.7,587.1 869.8,588.1 870,589.1 870.2,590.1 870.3,591.1 870.5,592 870.6,592.9 870.8,593.7 871,594.7 871.2,595.7 871.4,596.8 871.6,597.8 871.9,598.8 872.1,599.7 872.3,600.5 872.5,601.2 873.1,602.4 873.8,603.2 874.5,604.1 875.3,603.8 876.2,602.9 877,601.9 877.8,601.3 878.7,600.5 879.5,599.5 880,598.8 880.5,597.9 881,596.9 881.5,595.9 882,594.9 882.3,594.1 882.7,593.2 883.1,592.2 883.4,591.1 883.8,590.2 884.2,589.3 884.5,588.7 885.3,587.7 886.1,587.1 887,586.6 887.6,587.2 888.4,588.1 889.2,589.1 890,590.1 890.7,590.5 891.6,590.9 892.5,591.6 893.5,591.7 894.5,591.7 895.2,591.2 896,590.8 896.9,590.4 897.8,589.8 898.6,589.4 899.4,589 900.2,588.7 901.1,588.1 901.9,587.4 902.8,586.7 903.6,586.2 904.4,586.5 905.2,586.5 906,587 906.9,587.7 907.8,588.5 908.6,589.3 909.4,589.6 910.2,589.6 911,588.8 911.9,588.1 912.8,587.7 913.6,587.1 914.4,587.1 915.3,586.9 916.4,587 917.4,587.3 918.4,587.5 919.4,588.3 920.3,588.3 921.3,588 922.4,587.8 923.4,587.5 924.4,587 925.3,587.2 926.3,586.9 927.4,586.8 928.4,586.2 929.3,585.9 930.3,585.3 931.4,584.6 932.4,584.8 933.5,584.9 934.3,584.5 935.1,585 935.9,585.7 936.6,586.4 937.4,587.1 938.1,587.9 938.9,587.6 939.9,587.4 940.8,586.6 941.8,586.3 942.8,586.8 943.9,586.9 945.1,587.3 946.1,588.1 946.8,588.3"/>
<polyline fill="none" stroke="#41b3fd" stroke-width="1.8" stroke-linejoin="round" stroke-linecap="butt"  points="520,587.4 520.6,587.2 521.6,587.3 522.7,586.5 523.7,585.8 524.5,585.2 525.2,583.9 526,583.2 526.7,582.8 527.4,582.9 528.2,582.5 528.9,583.1 529.7,583.7 530.4,585.2 531.2,585.9 532.1,585.3 533,585.7 533.9,585.7 534.9,585.1 535.9,584.5 536.9,583.4 537.9,582.4 539,582.4 539.9,582 540.7,582.3 541.5,582.9 542.2,583.4 542.9,584.6 543.6,585.3 544.6,586.3 545.5,586.6 546.4,586.9 547.4,587.1 548.3,587.6 549.2,588 550.1,588 551.1,588.7 551.9,588.6 552.7,587.9 553.6,586.9 554.5,585.5 555.3,584.5 556.1,584.1 557,584 557.8,585.5 558.5,586.4 559.2,587.8 559.8,588.2 560.7,589.5 561.5,590.1 562.3,589.2 563.2,588.6 564.1,588.6 565.1,587.7 566.1,587.6 567,586.7 567.9,585.7 568.8,585.8 569.8,586 570.7,585.6 571.7,585.3 572.7,585.5 573.8,586.5 574.8,586.9 575.8,586.5 576.8,586.5 577.8,586.5 578.8,586.5 579.8,587.3 580.8,586.8 581.8,586.6 582.8,586.2 583.8,585.5 584.8,585.7 585.8,585.3 586.8,585.7 587.8,585.5 588.8,585.9 589.8,585.9 590.7,586.1 591.7,587.1 592.7,587.6 593.7,587.3 594.7,587.9 595.7,587.6 596.7,587.7 597.7,588.3 598.7,588.5 599.7,587.9 600.7,588.6 601.7,587.9 602.7,587.5 603.7,587.8 604.7,587.3 605.7,586.8 606.7,586.1 607.7,585.5 608.7,585.7 609.7,585.4 610.7,585.9 611.7,586.1 612.7,586.6 613.7,587.6 614.7,587.7 615.7,587.9 616.7,588.5 617.7,588 618.7,587.7 619.7,588.2 620.5,588.1 621.4,587 622.2,586 623.1,585.7 623.9,585.6 624.6,584.4 625.7,584.3 626.7,583.8 627.6,583.2 628.4,582.9 629,582.8 629.5,583.2 629.9,585.1 630.4,585.8 630.9,587.1 631.4,587.7 631.8,589.2 632.3,590.2 632.8,590.6 633.4,590.7 634.2,591.2 635.1,590.1 636.1,589.4 637.1,589.2 638,589.4 639,589.2 640,588.6 641.1,588.9 642.1,588.1 643.1,587.2 644.1,586.9 645.2,586.7 646.2,586 647.1,585.6 648.1,585.5 649,585.6 649.9,585.1 650.8,585.2 651.7,586.4 652.6,587.6 653.5,588.3 654.5,588.7 655.5,588.6 656.5,587.8 657.5,587.1 658.5,586.6 659.5,587.4 660.5,587.9 661.5,588.7 662.5,588.3 663.5,588.9 664.5,588.9 665.5,589 666.5,588.3 667.5,588.4 668.5,587.1 669.5,586.9 670.5,587 671.5,587.3 672.5,587.3 673.5,587.2 674.5,587.1 675.5,587.1 676.5,586.1 677.5,585.9 678.5,585.9 679.5,586 680.3,585.8 681.1,586.4 682,587 682.8,587.3 683.6,587.6 684.5,587.5 685.5,587.6 686.4,587.4 687.4,586.5 688.4,586.5 689.4,587 690.4,587.3 691.4,587.6 692.3,587.5 693.3,587.9 694.4,587.8 695.2,587.3 696.1,587.3 697,586.1 697.9,586 698.8,584.9 699.8,584.9 700.7,584.9 701.6,584.8 702.5,585.5 703.4,586.1 704.3,586.8 705.2,587.8 706.1,587.8 706.9,587.6 708,588.1 709,588.9 709.9,588.9 710.9,588.8 711.9,589.6 712.7,589.5 713.6,588.9 714.5,588.8 715.3,587.8 716.1,587.5 716.9,586.7 718,586.5 718.9,587 720,587.6 720.9,587.9 721.9,587.6 722.9,587.8 724,587.7 725,587.7 725.8,588.4 726.7,589.6 727.6,590.6 728.4,591.2 729.2,591.9 730,591.4 730.7,590.6 731.3,590 731.9,589 732.5,587.9 733.1,587.2 733.7,586.9 734.6,586.1 735.6,585.1 736.5,585 737.4,585.2 738.4,584.9 739.3,584.6 740.2,584.7 741.2,585.7 742.1,585.1 743.1,585.3 744,585.2 744.9,585 745.8,585.8 746.7,585.8 747.6,586.2 748.7,587 749.6,586.9 750.6,587.9 751.6,587.7 752.6,587.5 753.6,587.3 754.6,587.8 755.6,587.6 756.6,587.6 757.6,587.6 758.6,587.9 759.6,588.5 760.6,588.7 761.6,588.5 762.6,589 763.6,589 764.6,589.1 765.7,590 766.7,591.1 767.7,591 768.6,590.9 769.3,590.6 769.9,590.4 770.5,589.6 771.1,588.9 771.7,588.4 772.3,587.5 773.2,587.4 774.1,587.6 775.1,586.8 776.1,587.4 777,587.5 778,587 779,587.2 780,587.5 781.1,588 782.1,587.4 783.1,587.2 784.1,587.3 785.1,587.2 786,587.3 787.1,587.3 788,588 788.9,588 789.8,588.4 790.4,588.2 791.1,587.2 791.7,586.2 792.4,584.5 793,584.1 793.5,584 794.4,584.5 795.1,585.1 796,586.4 796.7,586.5 797.4,587.8 798.2,588.7 799,588.8 799.8,588.6 800.7,588.6 801.7,588.3 802.6,588 803.5,587.1 804,585.7 804.5,585.2 805,583.6 805.4,583.3 806,582.4 806.8,582.3 807.7,583.3 808.7,583.4 809.7,583.8 810.5,584.6 811.3,585.5 812.1,586.5 813,587 813.9,587.9 814.7,587.9 815.7,588.6 816.7,588 817.7,587.9 818.7,588.1 819.7,587.8 820.5,588 821.4,587.8 822.3,587.2 823.1,587.1 823.9,586.4 824.7,585.7 825.7,585.1 826.6,585.3 827.5,585.4 828.4,584.5 829.3,584.6 830.3,584.7 831.2,584.2 832.1,584.1 833.1,583.8 834,584.5 835,585.1 835.9,585.8 836.8,585.7 837.7,587.1 838.6,587.4 839.6,587.4 840.5,587.7 841.5,587.3 842.6,586.8 843.6,586.6 844.6,585.8 845.6,586.2 846.6,586.4 847.6,587.4 848.6,588.1 849.6,587.6 850.6,587.4 851.6,586.7 852.6,586.4 853.6,586.7 854.6,587 855.6,586.9 856.6,587 857.6,587.1 858.6,587.8 859.6,588.7 860.6,588.2 861.6,588.8 862.6,588.2 863.6,588.1 864.5,588 865.5,588.4 866.5,587.9 867.5,587.5 868.5,587.5 869.5,586.9 870.5,587.7 871.5,587.8 872.5,588.7 873.5,588.9 874.5,588.8 875.3,588.8 876.2,588.2 877,587.4 877.8,586.6 878.7,586 879.5,585.2 880.5,584.9 881.5,585.4 882.5,585.9 883.5,586.2 884.5,586.9 885.3,587.2 886.2,588.1 887.1,588.1 887.9,588.9 888.7,589.5 889.5,589.7 890.2,588.7 890.8,587.6 891.4,587.1 892,585.6 892.6,585.4 893.2,585.2 894,584.6 894.7,585 895.5,586.3 896.2,586.7 896.9,586.8 897.9,587.5 898.8,587 899.8,586.9 900.7,586.2 901.6,586.5 902.5,587.5 903.4,587.5 904.4,587.5 905.2,587.8 906,587.8 906.9,587.6 907.8,586.2 908.6,585.8 909.4,586 910.1,586.2 910.7,587 911.4,587.4 911.9,587.9 912.5,588.5 913.1,588.9 914.1,590.1 915,590.9 916,591.5 916.9,591 917.5,590.4 918.1,589.7 918.8,589.7 919.4,589.4 920,588.9 920.6,587.4 921.6,586.4 922.5,586.8 923.4,586.3 924.4,586.1 925.1,585 925.9,584.2 926.7,583.3 927.4,582.4 928.1,582 929.3,580.8 930.6,581.4 931.4,582.3 932.4,582.4 933.4,583.2 934.3,584.2 935.3,584.4 936.2,584.5 937.1,584.7 938.1,585.4 939,585.4 939.9,586.7 940.8,587.5 941.8,587.9 942.8,588.4 944,588.4 945.1,588.2 946.1,588.3 946.8,588.3"/>
</g>
<rect x="519" y="413.2" width="429" height="347.3" fill="none" stroke="#000" stroke-width="1.6"/>
<line x1="572.3" y1="760.5" x2="572.3" y2="766.5" stroke="#000" stroke-width="1.5" />
<line x1="679.5" y1="760.5" x2="679.5" y2="766.5" stroke="#000" stroke-width="1.5" />
<line x1="786.7" y1="760.5" x2="786.7" y2="766.5" stroke="#000" stroke-width="1.5" />
<line x1="893.9" y1="760.5" x2="893.9" y2="766.5" stroke="#000" stroke-width="1.5" />
<line x1="518.7" y1="760.5" x2="518.7" y2="763.8" stroke="#000" stroke-width="1.5" />
<line x1="625.9" y1="760.5" x2="625.9" y2="763.8" stroke="#000" stroke-width="1.5" />
<line x1="733.1" y1="760.5" x2="733.1" y2="763.8" stroke="#000" stroke-width="1.5" />
<line x1="840.3" y1="760.5" x2="840.3" y2="763.8" stroke="#000" stroke-width="1.5" />
<line x1="947.5" y1="760.5" x2="947.5" y2="763.8" stroke="#000" stroke-width="1.5" />
<text x="572.5" y="780" font-size="16" text-anchor="middle" fill="#000" stroke="#000" font-family="Liberation Sans, sans-serif" font-weight="bold" stroke-width="0.35" stroke-linejoin="round" >322</text>
<text x="679.7" y="780" font-size="16" text-anchor="middle" fill="#000" stroke="#000" font-family="Liberation Sans, sans-serif" font-weight="bold" stroke-width="0.35" stroke-linejoin="round" >324</text>
<text x="786.9" y="780" font-size="16" text-anchor="middle" fill="#000" stroke="#000" font-family="Liberation Sans, sans-serif" font-weight="bold" stroke-width="0.35" stroke-linejoin="round" >326</text>
<text x="894.1" y="780" font-size="16" text-anchor="middle" fill="#000" stroke="#000" font-family="Liberation Sans, sans-serif" font-weight="bold" stroke-width="0.35" stroke-linejoin="round" >328</text>
<text x="652" y="796.7" font-size="17.2" text-anchor="start" fill="#000" stroke="#000" font-family="Liberation Sans, sans-serif" font-weight="bold" stroke-width="0.35" stroke-linejoin="round" textLength="163" lengthAdjust="spacingAndGlyphs" >Magnetic field (mT)</text>
<text transform="translate(511.1,587) rotate(-90)" font-size="18.6" text-anchor="middle" fill="#000" stroke="#000" font-family="Liberation Sans, sans-serif" font-weight="bold" stroke-width="0.35" stroke-linejoin="round" textLength="138.5" lengthAdjust="spacingAndGlyphs">Intensity (a. u.)</text>
<text x="496.6" y="435.8" font-size="25" text-anchor="start" fill="#000" stroke="#000" font-family="Liberation Sans, sans-serif" font-weight="bold" stroke-width="0.35" stroke-linejoin="round" >d</text>
<polygon fill="#ff0000" points="528.7,420.4 530.2,424.9 535,425 531.2,427.8 532.6,432.3 528.7,429.6 524.8,432.3 526.2,427.8 522.4,425 527.2,424.9"/>
<polygon fill="#ff0000" points="595.2,501.8 596.7,506.3 601.5,506.4 597.7,509.2 599.1,513.7 595.2,511 591.3,513.7 592.7,509.2 588.9,506.4 593.7,506.3"/>
<polygon fill="#ff0000" points="675.2,435.1 676.7,439.6 681.5,439.7 677.7,442.5 679.1,447 675.2,444.3 671.3,447 672.7,442.5 668.9,439.7 673.7,439.6"/>
<polygon fill="#ff0000" points="756.6,445.8 758.1,450.3 762.9,450.4 759.1,453.2 760.5,457.7 756.6,455 752.7,457.7 754.1,453.2 750.3,450.4 755.1,450.3"/>
<polygon fill="#ff0000" points="836.4,498.1 837.9,502.6 842.7,502.7 838.9,505.5 840.3,510 836.4,507.3 832.5,510 833.9,505.5 830.1,502.7 834.9,502.6"/>
<polygon fill="#000" points="528.7,439.3 535,445.6 528.7,451.9 522.4,445.6"/>
<polygon fill="#000" points="569.3,557 575.6,563.3 569.3,569.6 563,563.3"/>
<polygon fill="#000" points="579.5,598.1 585.8,604.4 579.5,610.7 573.2,604.4"/>
<polygon fill="#000" points="655.5,553.2 661.8,559.5 655.5,565.8 649.2,559.5"/>
<polygon fill="#000" points="701.4,613.5 707.7,619.8 701.4,626.1 695.1,619.8"/>
<polygon fill="#000" points="740.4,547.3 746.7,553.6 740.4,559.9 734.1,553.6"/>
<polygon fill="#000" points="790.5,608.6 796.8,614.9 790.5,621.2 784.2,614.9"/>
<polygon fill="#000" points="866.3,562.5 872.6,568.8 866.3,575.1 860,568.8"/>
<polygon fill="#000" points="875.5,608.6 881.8,614.9 875.5,621.2 869.2,614.9"/>
<text x="541.2" y="431.7" font-size="16" text-anchor="start" fill="#ff0000" stroke="#ff0000" font-family="Liberation Sans, sans-serif" font-weight="bold" stroke-width="0.35" stroke-linejoin="round" textLength="86.4" lengthAdjust="spacingAndGlyphs" >DMPO-·OH</text>
<text x="541.2" y="451.8" font-size="16" text-anchor="start" fill="#000" stroke="#000" font-family="Liberation Sans, sans-serif" font-weight="bold" stroke-width="0.35" stroke-linejoin="round" textLength="91.4" lengthAdjust="spacingAndGlyphs" >DMPO-·CH<tspan font-size="11.5" dy="3.2">3</tspan></text>
<line x1="872.5" y1="426.7" x2="906.4" y2="426.7" stroke="#fc5555" stroke-width="1.7" />
<text x="910.3" y="432.1" font-size="13.8" text-anchor="start" fill="#000" stroke="#000" font-family="Liberation Sans, sans-serif" font-weight="bold" stroke-width="0.35" stroke-linejoin="round" textLength="31.2" lengthAdjust="spacingAndGlyphs" >light</text>
<line x1="872.5" y1="445.4" x2="906.4" y2="445.4" stroke="#41b3fd" stroke-width="1.7" />
<text x="910.3" y="450.6" font-size="13.8" text-anchor="start" fill="#000" stroke="#000" font-family="Liberation Sans, sans-serif" font-weight="bold" stroke-width="0.35" stroke-linejoin="round" textLength="31" lengthAdjust="spacingAndGlyphs" >dark</text>
</svg>
</body></html>
